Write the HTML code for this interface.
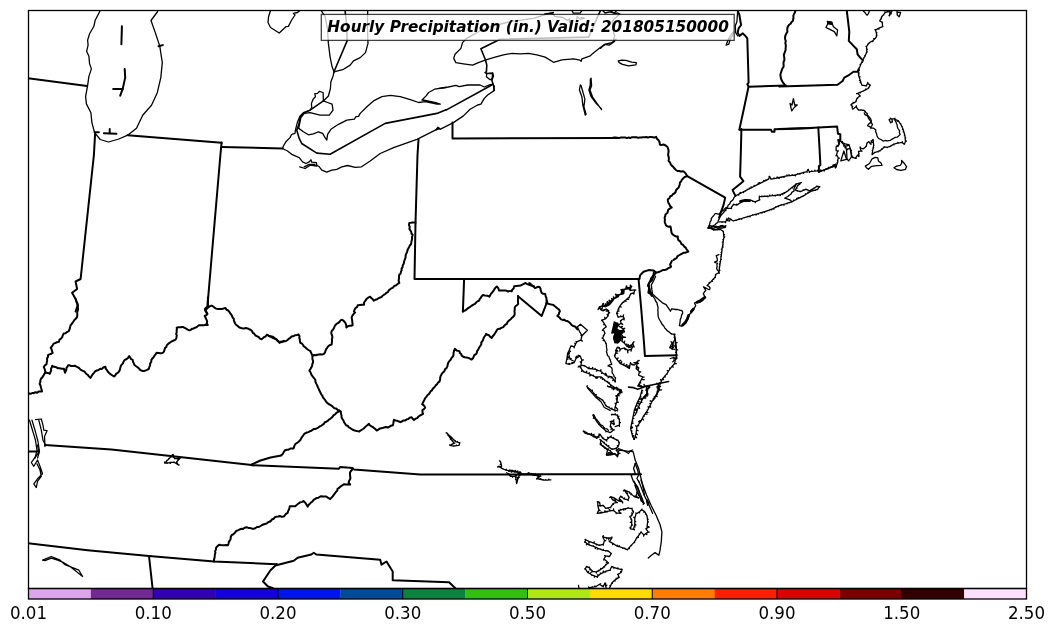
<!DOCTYPE html>
<html><head><meta charset="utf-8"><title>Hourly Precipitation</title>
<style>
html,body{margin:0;padding:0;background:#fff;}
body{width:1054px;height:633px;overflow:hidden;position:relative;font-family:"DejaVu Sans","Liberation Sans",sans-serif;}
svg{position:absolute;left:0;top:0;display:block}
.tl{font-family:"DejaVu Sans","Liberation Sans",sans-serif;font-size:16.67px;fill:#000}
.ttl{font-family:"DejaVu Sans","Liberation Sans",sans-serif;font-size:15.2px;font-weight:bold;font-style:italic;fill:#000}
.map path{fill:none;stroke:#000;stroke-width:1.3;stroke-linejoin:round;stroke-linecap:round}
.map path.thin{stroke-width:1.25}
.map path.fill{fill:#000}
.map path.fat{stroke-width:2.8}
.map path.fat2{stroke-width:1.7}
.map path.c{stroke-width:1.6}
.map path.b{stroke-width:2}
</style></head><body>
<svg width="1054" height="633" viewBox="0 0 1054 633">
<defs><filter id="gs" x="-5%" y="-50%" width="110%" height="200%" color-interpolation-filters="sRGB"><feOffset dx="0" dy="0"/></filter><clipPath id="ax"><rect x="28.5" y="10.5" width="998.0" height="578.0"/></clipPath></defs>
<rect x="0" y="0" width="1054" height="633" fill="#fff"/>
<g class="map" clip-path="url(#ax)">
<path d="M100.2 10.5 L95.1 20.5 L93.9 26.3 L89.6 33.8 L87.6 40.1 L88.1 45.1 L86.6 51.3 L88.9 56.3 L89.6 63.9 L91.4 68.9 L88.9 76.4 L87.6 85.7 L85.6 96.4 L86.4 103.9 L90.9 112.7 L91.9 122.7 L94.6 132.7 L100.2 139.5 L108.4 142.0 L118.9 139.0 L127.7 135.2 L136.5 128.2 L142.7 115.2 L151.5 105.2 L157.3 92.7 L160.8 77.6 L162.3 62.6 L159.8 46.3 L155.3 32.6 L151.0 20.5 L157.3 12.0 L157.8 10.5"/>
<path class="b" d="M27.5 78.1 L87.1 85.9"/>
<path class="b" d="M121.9 26.3 L121.4 44.3"/>
<path class="b" d="M124.7 68.9 L125.2 77.6 L122.7 88.9 L120.2 95.7"/>
<path class="b" d="M113.2 88.9 L122.7 88.9"/>
<path class="b" d="M94.6 132.2 L98.9 132.2"/>
<path class="b" d="M103.9 133.2 L116.4 133.7"/>
<path class="b" d="M109.7 129.0 L109.7 133.2"/>
<path class="b" d="M158.5 46.3 L162.8 45.1"/>
<path class="b" d="M127.7 135.2 L221.6 142.8"/>
<path d="M270.5 10.5 L268.5 17.0 L268.0 22.5 L270.5 27.5 L279.2 33.0 L285.9 26.7 L288.4 26.4 L291.7 20.0 L295.0 15.0 L293.4 13.3 L297.5 12.5 L299.7 10.8"/>
<path d="M321.4 10.8 L325.1 16.7 L327.6 30.0 L328.4 43.4 L330.1 56.8 L332.1 66.8 L334.0 71.8"/>
<path class="c" d="M345.1 10.8 L346.8 26.7 L347.1 40.9 L334.0 71.8"/>
<path d="M367.7 10.8 L367.4 26.7 L368.0 43.4 L365.5 52.6 L360.2 57.6 L353.5 60.9 L350.2 65.1 L343.5 69.3 L334.0 71.8"/>
<path d="M334.0 71.8 L333.1 76.0 L330.9 81.8 L330.4 88.5 L328.4 96.0 L323.4 101.0"/>
<path d="M323.4 100.9 L323.1 92.5 L319.3 91.4 L317.6 93.4 L314.8 93.7 L315.4 96.7 L313.1 99.2 L311.4 103.4 L311.7 107.6 L310.1 110.1 L303.4 112.6 L300.1 115.9 L297.6 121.7 L295.4 130.1 L295.0 133.4 L291.7 134.3 L290.0 137.6 L285.9 141.8 L283.4 146.0 L282.5 148.5"/>
<path d="M323.4 100.9 L327.6 102.5 L332.1 104.2 L333.0 110.1 L329.3 115.1 L320.1 115.1 L310.1 112.6 L304.2 113.4 L300.9 117.6 L299.7 123.4 L298.7 128.4"/>
<path class="c" d="M323.4 100.9 L310.1 110.1 L303.4 113.4 L300.1 117.6 L298.7 125.1 L296.7 130.1 L299.2 138.4 L301.7 143.5 L316.8 153.1 L330.1 154.3 L385.2 123.4 L437.0 113.4 L446.0 109.7"/>
<path d="M298.7 128.4 L303.4 131.8 L308.4 134.8 L313.4 133.8 L318.4 131.8 L322.6 133.4 L325.1 137.6 L326.8 140.1 L327.6 134.3 L330.9 129.3 L338.5 124.3 L346.8 120.1 L354.3 119.2 L356.0 116.7 L358.5 116.4 L360.2 113.4 L366.9 106.7 L373.5 100.9 L381.9 96.7 L390.2 95.4 L400.2 96.7 L410.3 99.7 L418.6 102.5 L425.3 101.7 L437.0 104.2 L440.3 104.2 L437.0 103.0 L425.3 100.5 L422.0 100.0 L426.1 95.9 L428.6 92.5 L434.5 89.2 L446.0 87.5"/>
<path class="b" d="M221.5 147.1 L282.5 148.4"/>
<path d="M282.5 148.5 L287.5 151.0 L291.7 154.3 L299.2 157.6 L302.6 161.8 L305.9 163.5 L309.2 161.8 L310.9 159.8 L311.7 162.2 L316.4 162.7 L316.8 165.2 L319.3 166.8 L321.8 170.2 L326.8 172.2 L331.8 170.2 L336.8 169.3 L341.8 166.8 L347.6 165.5 L355.2 167.3 L361.5 166.8 L370.2 161.0 L380.2 153.5 L393.6 147.6 L416.9 139.3 L435.3 130.1 L438.7 128.4"/>
<path d="M299.7 166.8 L305.1 168.5 L310.1 165.2 L316.8 166.0"/>
<path d="M304.2 166.8 L309.2 164.3 L315.1 164.3"/>
<path d="M553.5 12.5 L546.9 14.2 L533.5 18.4 L510.1 21.7 L490.1 26.7 L478.4 31.7 L466.7 38.4 L462.5 42.6 L460.9 48.4 L455.0 54.3 L453.7 58.4 L455.9 62.6 L463.4 63.8 L472.6 65.1 L478.4 62.6 L485.9 59.8"/>
<path class="c" d="M600.3 10.8 L588.6 37.1 L500.1 39.2 L480.9 48.7 L485.4 59.8 L486.8 65.1 L486.4 71.8 L485.1 72.6 L486.8 73.5 L492.6 73.1 L493.4 76.0 L491.8 80.1 L493.8 86.8 L494.3 90.2"/>
<path d="M486.8 73.5 L486.4 76.8 L490.1 79.8 L492.1 78.5 L492.6 73.1"/>
<path d="M485.9 59.8 L495.1 57.1 L503.5 54.8 L511.8 53.4 L520.2 53.9 L528.5 53.4 L536.9 54.8 L545.2 57.1 L553.5 62.3 L561.9 59.8 L573.6 58.8 L579.9 60.1 L581.1 61.4 L581.9 58.8 L590.3 55.9 L592.8 53.4 L600.3 47.6 L605.3 44.2 L612.0 42.6 L616.0 39.2"/>
<path d="M439.2 88.3 L448.3 87.0 L455.9 85.3 L459.2 86.7 L467.6 85.0 L480.1 85.0 L484.3 87.0 L490.1 84.7 L493.4 84.2"/>
<path class="c" d="M446.0 110.1 L491.8 85.0"/>
<path d="M494.3 85.8 L493.8 90.9 L487.6 95.0 L484.3 98.4 L480.9 104.2 L477.6 105.0 L470.1 109.2 L463.4 115.9 L453.4 122.6 L440.0 129.3"/>
<path class="fill" d="M435.9 130.0 L437.8 127.3 L439.8 128.6 Z"/>
<path class="b" d="M452.5 122.6 L452.5 138.4 L617.0 137.9"/>
<path d="M580.3 85.0 L579.4 90.0 L581.9 96.7 L582.8 105.0 L585.3 115.1 L586.1 114.2 L583.9 106.7 L584.9 99.2 L583.3 93.4 L581.1 85.8 Z"/>
<path d="M591.1 78.3 L591.6 85.8 L590.0 90.0 L592.8 97.5 L597.0 103.4 L601.6 109.7 L601.1 108.4 L596.1 103.4 L591.1 96.7 L588.9 90.0 L590.3 85.0 L590.3 79.2 Z"/>
<path d="M618.3 60.9 L621.7 60.1 L625.9 60.4 L631.7 62.1 L636.4 62.6 L635.9 64.8 L628.4 65.9 L622.5 64.3 L619.2 62.6 Z"/>
<path class="b" d="M737.7 10.8 L739.4 15.0 L740.2 20.0 L741.1 25.0 L738.6 28.4 L737.7 32.6 L739.4 35.9 L742.8 33.4 L745.3 35.9 L747.3 38.4 L747.8 55.1 L748.3 71.8 L748.6 82.6 L747.3 84.3 L748.6 86.5 L743.6 110.0 L739.4 129.4"/>
<path d="M737.7 10.8 L736.9 21.7 L735.2 25.9 L735.7 32.6 L737.7 35.9"/>
<path d="M733.6 31.7 L730.2 35.9 L727.7 40.9 L726.1 45.1 L728.9 44.2 L730.2 39.2 L732.7 35.1 Z"/>
<path class="b" d="M748.6 86.8 L786.0 85.5"/>
<path d="M614.5 41.4 L613.7 39.2 L614.8 35.7 L613.7 33.5 L613.1 25.5 L612.0 22.1 L614.3 18.7 L617.1 16.4 L619.9 14.1 L617.7 13.0 L614.3 13.5 L612.0 11.8 L609.7 10.7"/>
<path d="M600.6 48.3 L604.6 44.3 L609.1 45.1 L612.0 43.1 L614.5 41.4"/>
<path d="M544.8 13.9 L550.5 13.2 L553.9 14.7 L554.5 16.4 L563.0 17.5 L567.6 20.4 L569.8 18.7 L569.3 22.6"/>
<path d="M576.7 19.8 L577.2 16.4 L580.1 19.2 L584.6 18.1 L581.2 17.5"/>
<path d="M572.1 10.7 L573.3 13.2 L580.1 13.2 L581.8 10.9"/>
<path d="M602.9 10.7 L605.1 13.0 L609.7 11.8 L614.3 13.0 L616.5 10.7"/>
<path class="b" d="M795.4 10.8 L794.9 12.4 L794.0 14.0 L793.3 15.8 L793.5 17.6 L793.2 19.2 L792.9 21.0 L791.4 22.3 L790.8 23.5 L789.2 24.7 L788.3 25.8 L787.5 27.5 L787.2 29.6 L787.4 31.7 L786.1 34.0 L785.3 35.9 L785.0 37.6 L785.2 39.3 L785.8 41.1 L785.3 43.0 L785.8 44.9 L785.8 46.5 L785.6 48.4 L785.6 50.2 L784.9 51.9 L784.4 53.3 L783.8 54.9 L784.2 56.9 L784.3 58.4 L784.4 60.2 L783.6 61.8 L783.5 63.3 L783.6 65.1 L783.6 66.7 L782.4 68.5 L781.8 70.2 L781.2 71.9 L780.6 73.7 L780.4 75.0 L780.7 76.9 L780.9 78.3 L781.7 80.3 L782.9 82.5 L783.9 83.6 L785.0 85.2"/>
<path class="b" d="M779.2 86.5 L837.6 84.8 L842.6 81.0 L844.3 77.6 L849.3 74.8 L853.5 71.8 L857.6 71.8 L858.5 69.3"/>
<path class="b" d="M846.8 10.8 L848.1 21.7 L849.3 31.7 L848.8 40.9 L853.5 45.9 L856.8 49.3 L857.6 54.3 L860.2 57.6 L862.7 60.1"/>
<path d="M858.5 70.1 L859.3 70.5 L858.6 69.8 L859.5 67.6 L859.1 67.4 L859.7 67.2 L860.6 65.1 L860.0 64.4 L860.7 64.7 L861.6 62.6 L862.5 62.4 L861.8 62.2 L862.7 60.1 L863.2 61.0 L862.9 59.8 L863.9 58.0 L863.7 57.8 L864.1 57.7 L865.2 55.9 L864.7 55.7 L865.3 55.6 L866.8 51.8 L867.3 52.0 L866.8 51.4 L866.7 49.3 L867.3 49.4 L866.6 48.9 L866.5 46.7 L865.9 46.3 L866.7 46.4 L867.9 44.7 L867.7 44.1 L868.1 44.3 L869.3 42.6 L869.5 43.1 L869.7 42.4 L872.7 40.9 L872.8 41.7 L873.0 40.6 L874.3 39.2 L873.7 38.7 L874.6 38.9 L876.0 37.6 L875.5 37.7 L876.1 37.2 L876.9 35.1 L876.3 35.2 L876.7 34.7 L876.2 32.6 L876.9 32.8 L876.1 32.2 L875.5 30.0 L874.9 29.7 L875.9 29.9 L878.5 28.4 L879.0 29.1 L878.9 28.2 L882.7 26.7 L883.0 26.5 L882.6 26.3 L882.2 22.5 L882.6 22.2 L881.9 22.3 L879.9 20.9 L879.6 20.8 L880.0 20.5 L880.9 18.8 L881.4 18.9 L881.0 18.4 L881.9 16.7 L881.7 16.3 L882.1 16.4 L883.5 14.6 L883.8 14.8 L883.8 14.3 L885.2 12.5 L884.8 11.9 L885.6 12.4 L887.7 11.9 L887.3 11.3 L888.1 11.8 L890.2 11.3 L889.4 11.0 L890.1 11.7 L889.4 15.9 L889.0 15.3 L889.6 15.5 L890.6 13.6 L891.3 13.8 L890.8 13.2 L891.9 11.3"/>
<path d="M896.9 11.7 L898.6 12.4 L900.6 12.4 L899.9 14.8 L899.2 16.9 L897.1 14.8 L897.2 13.4 Z"/>
<path d="M863.5 11.3 L864.9 12.4 L865.9 13.8 L867.0 15.2 L868.4 13.6 L869.3 11.3"/>
<path d="M827.6 21.7 L831.8 22.5 L833.4 26.7 L837.6 30.0 L836.8 35.9 L834.3 31.7 L829.3 29.2 L825.9 27.5 L827.6 24.2 Z"/>
<path class="fill" d="M827.3 21.4 L831.8 22.2 L832.1 24.4 L828.1 23.9 Z"/>
<path d="M790.0 103.4 L791.7 110.9 L794.2 107.6 L797.2 105.0 L794.7 105.0 L793.4 98.7 L792.0 105.0 Z"/>
<path d="M858.5 70.0 L858.9 69.8 L858.5 70.4 L858.5 72.5 L859.1 73.0 L858.5 72.9 L858.5 75.0 L859.1 74.9 L858.6 75.4 L859.3 77.5 L860.0 76.7 L859.4 77.9 L860.2 80.0 L859.5 80.6 L860.3 80.4 L861.0 82.5 L860.1 82.7 L861.1 82.9 L861.8 85.0 L862.0 85.4 L862.2 85.1 L866.0 85.8 L866.6 86.0 L866.2 85.5 L867.7 83.3 L867.8 82.4 L868.0 83.6 L870.2 85.0 L870.4 85.2 L870.0 85.4 L868.5 88.3 L868.6 87.4 L868.1 88.5 L866.0 89.6 L865.8 88.9 L865.6 89.8 L863.5 90.9 L863.5 91.1 L863.1 91.0 L860.6 92.1 L860.4 92.9 L860.2 92.3 L857.6 93.4 L856.6 93.7 L857.9 93.6 L860.2 95.9 L860.4 96.0 L859.8 96.1 L856.8 98.4 L857.7 98.3 L856.7 98.8 L856.0 101.7 L856.1 100.6 L855.6 101.9 L853.7 103.0 L853.1 102.3 L853.4 103.2 L851.5 104.2 L850.7 104.9 L851.6 104.6 L852.1 106.7 L852.7 106.6 L852.1 107.1 L852.6 109.2 L852.4 108.3 L853.0 109.0 L856.0 106.7 L856.4 105.8 L856.2 107.0 L858.5 110.1 L858.7 109.5 L858.9 110.1 L861.0 110.1 L861.0 109.6 L861.4 110.1 L863.5 110.1 L862.5 110.3 L863.8 110.3 L865.2 111.7 L865.4 111.3 L865.4 112.0 L866.8 113.4 L867.4 113.3 L867.0 113.8 L867.7 115.9 L868.3 115.8 L867.8 116.3 L868.5 118.4 L869.1 117.9 L868.7 118.7 L871.0 121.7"/>
<path class="b" d="M778.7 129.1 L810.0 128.0 L818.3 127.5 L837.1 126.5 L838.0 133.8 L840.3 134.3 L840.3 141.1 L838.2 140.0 L839.2 143.7"/>
<path d="M839.2 143.7 L838.6 143.1 L839.1 144.1 L838.2 146.3 L837.1 145.3 L837.8 146.4 L836.1 146.8 L837.2 146.2 L836.1 147.2 L836.1 150.5 L836.1 149.7 L836.5 150.6 L837.7 151.0 L838.5 150.9 L837.5 151.4 L836.6 154.7 L835.9 155.8 L836.8 155.0 L838.2 157.8 L839.4 158.2 L838.1 158.2 L837.9 160.1 L837.4 160.4 L837.9 160.5 L837.7 162.5 L837.0 162.6 L837.5 162.9 L836.6 165.1 L835.7 164.1 L836.5 165.5 L835.6 167.7"/>
<path d="M835.6 167.7 L835.4 167.9 L835.3 167.4 L833.5 165.1 L833.3 164.7 L833.3 165.4 L832.4 166.7 L832.4 166.4 L832.1 166.8 L830.3 167.5 L830.1 167.0 L829.9 167.7 L828.1 168.4 L828.2 168.8 L827.7 168.5 L825.9 169.3 L826.1 168.7 L825.5 169.4 L823.7 170.1 L824.5 170.7 L823.4 170.3 L821.6 171.0 L821.2 170.8 L821.2 171.2 L819.4 171.9"/>
<path class="b" d="M818.3 127.5 L819.4 146.3 L820.4 165.1 L818.9 166.1 L818.9 171.9"/>
<path d="M840.8 160.9 L843.9 151.0 L846.5 159.4 Z"/>
<path d="M841.3 142.1 L841.5 141.5 L841.6 142.4 L844.4 145.3 L843.6 146.0 L844.6 145.6 L845.5 147.4 L844.9 147.7 L845.7 147.7 L846.5 149.4 L847.6 149.7 L846.4 149.1 L845.5 146.3 L844.7 145.5 L845.9 146.2 L848.6 145.3"/>
<path d="M846.5 149.4 L850.2 148.4 L851.7 156.7 L848.6 160.9 L847.0 158.8 Z"/>
<path d="M840.3 141.1 L840.2 140.6 L840.6 141.3 L842.4 142.4 L842.3 141.5 L842.7 142.6 L844.4 143.7 L844.7 143.5 L844.8 143.8 L846.8 144.2 L846.9 144.5 L847.2 144.3 L849.1 144.7 L848.2 144.7 L849.2 145.1 L850.2 148.4 L850.4 148.4 L850.3 148.8 L850.7 150.8 L851.5 150.3 L850.8 151.2 L851.2 153.3 L851.6 153.1 L851.3 153.7 L851.7 155.7 L851.1 155.8 L852.0 156.0 L852.8 157.3 L852.3 157.7 L853.2 157.4 L855.4 158.3 L856.4 158.2 L855.6 158.0 L857.5 155.2 L857.7 155.0 L857.8 155.4 L859.1 156.2 L858.5 156.5 L859.0 155.8 L858.8 153.9 L859.1 153.7 L858.7 153.5 L858.5 151.5 L858.7 152.2 L858.9 151.4 L861.1 151.0 L862.1 151.0 L861.0 150.6 L860.1 147.9 L860.2 147.0 L860.5 148.0 L863.2 148.9 L862.8 148.6 L863.5 148.7 L866.4 146.3 L865.5 146.8 L866.4 145.9 L866.9 143.2 L866.9 143.8 L867.2 142.9 L869.0 141.6 L868.4 142.2 L869.2 142.0 L870.5 144.2 L871.2 144.2 L870.7 143.8 L871.6 141.1 L871.0 140.9 L871.9 140.8 L873.1 139.5 L872.9 139.5 L873.2 139.9 L873.4 142.4 L872.5 142.5 L873.4 142.8 L873.7 145.3 L873.9 145.5 L873.6 145.7 L873.1 147.9 L873.7 147.6 L873.1 148.3 L872.6 150.5 L872.4 150.4 L872.6 150.9 L872.1 154.7 L872.0 154.2 L872.4 154.4 L874.7 152.6 L874.3 152.3 L875.1 152.4 L877.8 151.5 L878.0 152.1 L878.2 151.3 L879.9 150.5 L880.0 151.0 L880.3 150.3 L882.0 149.4 L881.6 148.8 L882.3 149.1 L884.1 146.8 L884.2 147.6 L884.5 146.9 L887.2 147.4 L887.4 147.6 L887.6 147.2 L890.4 146.3 L890.3 146.0 L890.7 146.1 L893.5 144.2 L894.0 144.8 L893.9 144.1 L897.7 143.2 L897.8 142.3 L898.1 143.1 L901.8 142.3 L902.4 141.8 L902.2 142.6 L904.4 144.2 L904.1 144.3 L904.6 143.8 L905.5 141.1 L906.4 141.2 L905.4 140.7 L905.1 138.0 L905.7 137.8 L905.1 137.6 L904.8 134.8 L904.4 135.4 L904.6 134.4 L903.8 131.7 L903.1 131.9 L903.7 131.3 L902.9 128.6 L902.5 129.3 L902.7 128.2 L901.8 126.5 L902.3 126.5 L901.7 126.1 L900.8 124.4 L901.0 124.0 L900.6 124.1 L898.2 120.7 L897.4 121.2 L897.8 120.6 L894.5 119.0 L895.1 118.2 L894.1 118.9 L890.9 118.7 L890.4 118.1 L890.5 118.9 L889.1 119.7 L889.3 119.4 L889.3 120.1 L890.4 122.3 L890.7 122.9 L890.7 122.2 L892.4 121.8 L892.3 122.0 L892.4 121.4 L891.9 119.7"/>
<path d="M894.5 119.7 L895.8 121.5 L896.5 123.5 L897.2 125.1 L897.3 126.8 L898.0 128.5 L899.6 130.8 L899.3 132.4 L900.2 134.4 L898.6 136.0 L897.2 137.2 L895.2 137.4 L893.6 138.3 L891.7 139.3 L890.3 140.4 L888.6 140.6 L887.4 140.9 L885.2 140.5 L883.1 141.1 L881.0 139.5 L878.8 138.7 L877.8 137.3 L877.1 136.0 L876.6 133.8 L875.7 131.9 L875.8 129.9 L873.7 128.2 L870.6 127.8 L871.6 126.3 L872.6 124.5 L871.0 122.4 L869.1 123.6 L867.6 125.7 L870.2 126.9 L870.5 128.0"/>
<path d="M870.5 122.3 L871.4 121.4 L870.8 119.1 L869.6 117.3 L868.0 116.1 L866.3 115.4 L864.9 114.4 L864.3 112.9"/>
<path d="M865.3 166.1 L869.5 163.5 L872.1 158.8 L875.2 157.3 L877.8 157.8 L878.4 160.9 L881.0 163.0 L882.0 165.3 L876.8 165.6 L871.6 166.3 L868.4 169.3 L866.4 167.7 Z"/>
<path d="M894.0 167.7 L896.6 166.1 L900.3 165.3 L901.8 163.0 L901.6 160.4 L904.4 163.5 L906.5 166.7 L905.5 169.3 L900.8 170.3 L896.6 169.5 Z"/>
<path class="b" d="M609.2 137.9 L610.9 137.9 L612.3 138.0 L614.2 137.5 L615.6 137.5 L617.1 137.7 L619.1 138.0 L620.5 137.6 L622.1 137.6 L623.5 137.6 L625.2 137.4 L626.9 138.1 L628.7 137.4 L630.1 138.1 L631.6 137.3 L633.3 137.2 L634.8 137.2 L636.6 137.3 L638.3 137.9 L639.8 137.4 L641.4 137.5 L642.8 137.3 L644.8 137.2 L646.2 137.1 L648.0 137.5 L649.4 137.1 L651.0 137.1 L652.9 137.3 L654.5 137.6 L656.1 136.8 L657.1 139.0 L658.5 140.1 L659.5 142.0 L659.9 144.7 L661.8 144.9 L663.4 144.5 L665.7 145.5 L667.5 147.0 L668.0 148.6 L668.5 150.1 L668.6 151.6 L668.3 153.3 L668.1 155.2 L668.7 156.9 L668.9 159.1 L668.5 160.9 L670.1 162.5 L670.7 164.3 L672.0 165.9 L673.3 166.9 L674.5 168.6 L676.0 170.0 L677.5 171.0 L679.5 171.0 L680.9 171.6 L682.7 171.2 L684.2 171.9 L685.8 173.6 L686.8 175.5"/>
<path class="b" d="M739.4 129.8 L771.1 129.8 L772.0 131.8 L774.5 131.8 L774.5 129.3 L786.0 128.9 L812.0 127.9"/>
<path class="b" d="M741.4 129.1 L740.9 150.0 L740.1 176.7 L743.4 181.2 L732.6 190.1 L735.4 195.9"/>
<path class="b" d="M686.8 175.9 L725.2 197.6 L723.5 205.1 L721.0 211.8 L719.4 217.6"/>
<path class="b" d="M686.8 176.4 L684.7 177.0 L683.0 178.5 L681.8 179.9 L681.1 181.4 L679.9 182.5 L679.8 184.5 L679.1 186.1 L678.7 187.6 L677.3 188.8 L676.0 190.2 L675.6 192.0 L674.3 193.5 L672.8 194.2 L671.8 195.7 L670.1 196.5 L669.4 198.3 L667.8 199.4 L667.9 201.1 L668.4 202.9 L669.3 204.1 L670.1 206.0 L671.7 207.5 L670.3 208.2 L669.1 209.1 L668.1 210.0 L667.5 212.8 L665.4 214.5 L665.3 215.9 L664.6 217.7 L664.9 219.1 L664.8 220.9 L664.8 222.6 L665.7 224.4 L666.0 225.5 L668.1 226.7 L670.5 226.5 L671.0 229.0 L671.2 231.0 L671.7 233.2 L673.4 235.0 L674.5 235.8 L676.0 236.4 L677.8 236.6 L677.9 238.7 L678.5 240.4 L679.8 241.0 L680.9 242.8 L681.6 244.2 L683.2 245.0 L684.3 246.6 L685.7 247.6 L686.4 249.2 L687.4 250.3 L688.3 251.6 L686.5 252.2 L685.2 252.8 L683.4 252.8 L682.2 253.7 L680.4 254.5 L678.6 255.5 L677.4 256.4 L676.6 258.1 L674.8 259.0 L673.5 260.0"/>
<path d="M735.4 195.9 L735.4 196.4 L735.8 195.7 L738.1 194.5 L738.7 195.2 L738.4 194.3 L740.7 193.1 L740.0 192.4 L741.1 193.0 L743.4 191.7 L743.6 192.5 L743.8 191.6 L745.5 190.7 L745.5 191.2 L745.9 190.5 L747.6 189.7 L747.2 189.3 L747.9 189.5 L749.7 188.6 L749.3 188.1 L750.0 188.4 L751.8 187.6 L751.1 187.0 L752.1 187.4 L753.9 186.5 L754.1 185.4 L754.2 186.3 L755.9 185.5 L756.0 185.1 L756.3 185.3 L758.0 184.4 L758.2 183.2 L758.4 184.3 L760.1 183.4 L759.2 182.6 L760.5 183.2 L762.2 182.4 L762.3 181.8 L762.6 182.2 L764.3 181.3 L763.6 180.4 L764.6 181.1 L766.4 180.3 L765.8 179.8 L766.7 180.1 L768.5 179.2 L768.1 179.0 L768.6 178.9 L769.6 176.4 L769.1 176.5 L769.8 176.7 L771.0 179.2 L771.2 178.8 L771.4 179.1 L773.9 178.6 L773.9 177.8 L774.3 178.6 L776.8 178.1 L777.1 176.9 L777.2 178.0 L779.3 177.5 L779.1 178.5 L779.7 177.4 L781.8 177.0 L781.6 177.4 L782.2 176.9 L784.3 176.4 L784.0 177.3 L784.7 176.3 L786.8 175.9 L787.0 174.8 L787.2 175.8 L789.6 175.6 L789.0 174.8 L790.0 175.6 L792.4 175.3 L792.1 174.7 L792.8 175.3 L795.2 175.0 L795.4 175.9 L795.6 174.9 L797.7 174.2 L797.6 173.6 L798.1 174.1 L800.2 173.4 L799.8 174.2 L800.6 173.3 L803.5 172.5 L803.6 173.4 L803.9 172.4 L806.9 171.7 L807.2 172.2 L807.0 171.3 L807.7 169.7 L808.5 169.5 L808.0 170.0 L809.4 171.7 L809.3 172.5 L809.8 171.7 L811.9 171.4 L811.5 171.0 L812.3 171.4 L814.4 171.2 L814.9 170.2 L814.8 171.1 L816.9 170.9 L817.7 170.3 L817.3 171.0 L818.9 171.7 L818.6 171.3 L819.3 171.6 L821.3 170.9 L820.3 170.0 L821.7 170.7 L823.8 170.0 L824.5 170.8 L824.2 169.9 L826.2 169.2 L826.3 168.6 L826.6 169.1 L828.7 168.4 L828.3 167.3 L829.1 168.2 L831.1 167.5 L831.0 166.7 L831.5 167.4 L833.6 166.7 L832.6 166.1 L833.7 166.3 L834.4 164.7 L835.4 164.5 L834.7 165.0 L836.1 166.7"/>
<path d="M735.4 195.9 L734.0 197.6 L733.2 199.4 L731.8 200.7 L730.4 202.0 L729.9 203.8 L728.1 205.2 L727.6 207.1 L725.9 207.7 L724.7 208.8 L723.5 210.2 L721.4 211.6 L719.9 213.3 L719.9 215.5 L719.2 217.6"/>
<path d="M719.2 217.6 L719.6 218.0 L719.5 217.3 L721.3 215.1 L721.2 214.8 L721.5 214.8 L723.4 212.6 L723.8 212.7 L723.6 212.3 L725.0 210.5 L726.0 210.7 L725.3 210.2 L726.7 208.4 L726.5 208.8 L727.1 208.4 L730.9 208.4 L731.5 208.5 L731.1 208.1 L732.1 206.4 L731.8 206.4 L732.4 206.0 L733.4 204.3 L733.2 205.1 L733.8 204.4 L736.7 205.1 L736.7 204.1 L737.1 204.9 L739.0 203.7 L738.7 203.6 L739.3 203.5 L741.2 202.3 L741.2 201.8 L741.5 202.1 L743.4 200.9 L743.7 201.4 L743.8 200.9 L746.8 200.5 L746.9 199.7 L747.2 200.5 L750.1 200.1 L750.1 199.8 L750.5 200.2 L752.6 200.9 L752.7 201.4 L753.0 201.1 L755.1 201.8 L755.4 202.7 L755.5 201.6 L759.3 200.1 L759.9 199.7 L759.3 199.7 L759.3 196.8 L759.4 196.1 L759.7 196.7 L762.0 196.5 L761.6 196.1 L762.4 196.5 L764.7 196.3 L764.8 195.8 L765.1 196.3 L767.4 196.1 L768.0 196.8 L767.8 196.1 L770.1 195.9 L769.7 195.1 L770.5 195.9 L772.6 195.6 L772.4 194.9 L773.0 195.6 L775.1 195.3 L775.3 196.0 L775.5 195.3 L777.6 195.0 L777.6 194.6 L778.0 195.0 L780.2 194.8 L780.3 195.6 L780.5 194.6 L782.4 193.7 L782.9 194.6 L782.7 193.6 L784.6 192.7 L784.5 193.3 L785.0 192.6 L786.8 191.7 L786.7 191.4 L787.1 191.5 L789.3 189.7 L789.0 189.3 L789.6 189.4 L791.8 187.6 L792.7 187.8 L792.2 187.3 L793.9 185.9 L794.7 186.3 L794.2 185.7 L796.0 184.2 L796.0 183.9 L796.4 184.1 L798.5 183.4 L798.6 184.0 L798.9 183.3 L801.0 182.6 L801.4 182.7 L800.7 182.8 L799.4 184.2 L799.7 184.3 L799.1 184.5 L797.7 185.9 L797.3 185.7 L797.5 186.2 L796.4 188.0 L797.0 188.1 L796.2 188.3 L795.2 190.1 L795.4 189.7 L795.6 190.2 L797.7 190.9 L797.3 191.2 L798.1 191.0 L800.2 191.7 L799.8 191.1 L800.6 191.6 L803.1 190.5 L803.2 189.7 L803.5 190.3 L806.0 189.2 L805.6 189.6 L806.4 189.4 L809.4 190.9 L809.4 190.6 L809.7 190.7 L811.9 189.4 L812.3 190.0 L812.2 189.2 L814.4 187.9 L814.8 188.1 L814.7 187.7 L816.9 186.4 L816.7 186.1 L817.3 186.5 L819.4 186.7 L819.9 186.7 L819.2 187.1 L817.7 189.2 L817.8 189.5 L817.3 189.4 L815.2 190.1 L815.5 190.4 L814.8 190.2 L812.7 190.9 L812.9 190.0 L812.3 191.0 L810.2 191.7 L810.0 191.5 L809.9 192.0 L808.0 193.1 L808.1 192.1 L807.6 193.3 L805.8 194.5 L805.4 193.8 L805.4 194.7 L803.5 195.9 L803.1 195.7 L803.2 196.1 L801.3 197.0 L801.4 196.5 L800.9 197.2 L799.1 198.1 L798.1 197.6 L798.7 198.3 L796.9 199.3 L796.8 198.4 L796.5 199.4 L794.3 200.5 L793.5 200.1 L794.0 200.7 L791.8 201.8 L791.4 201.4 L791.5 201.9 L789.3 202.6 L789.4 202.9 L789.0 202.7 L786.8 203.4 L787.1 203.8 L786.4 203.5 L784.0 204.3 L784.0 205.3 L783.7 204.4 L781.3 205.1 L781.2 204.7 L780.9 205.2 L778.5 205.9 L778.5 206.6 L778.1 206.1 L776.0 207.2 L775.7 206.7 L775.6 207.4 L773.5 208.4 L773.9 209.2 L773.1 208.6 L771.2 209.3 L771.7 209.8 L770.9 209.4 L769.0 210.1 L769.1 210.6 L768.6 210.3 L766.8 210.9 L767.2 211.2 L766.4 211.1 L764.0 211.8 L764.6 212.4 L763.6 211.9 L761.2 212.6 L762.0 213.2 L760.8 212.7 L758.4 213.5 L758.5 214.2 L758.1 213.6 L755.7 214.3 L756.4 214.9 L755.3 214.4 L752.9 215.1 L752.5 214.8 L752.5 215.2 L750.1 216.0 L750.0 216.9 L749.7 216.1 L747.3 216.8 L747.4 216.4 L746.9 216.9 L744.5 217.6 L744.4 217.9 L744.1 217.7 L741.7 218.5 L741.8 219.3 L741.4 218.6 L739.0 219.3 L739.1 218.6 L738.6 219.4 L736.2 220.1 L736.4 220.5 L735.8 220.2 L733.4 221.0 L733.6 220.8 L733.1 220.8 L731.3 219.7 L731.4 219.4 L731.0 219.5 L729.2 218.5 L728.6 217.9 L728.9 218.7 L727.1 220.1 L726.4 219.5 L726.8 220.4 L725.0 221.8 L725.7 222.6 L724.6 221.8 L722.1 221.8 L722.0 222.3 L721.7 221.8 L719.2 221.8"/>
<path d="M796.0 184.2 L795.4 185.8 L794.5 187.3 L793.9 189.0 L794.0 191.2 L791.8 192.3 L791.1 194.0 L789.2 195.2 L787.8 196.5 L785.9 197.5 L784.6 198.2 L786.3 198.6 L788.4 199.4 L790.5 200.2 L791.8 201.8"/>
<path d="M720.0 213.8 L718.2 214.1 L716.5 213.6 L714.9 213.7 L713.9 215.5 L712.5 216.9 L711.3 218.6 L711.2 220.4 L710.1 221.8 L709.8 223.6 L709.4 225.0 L708.6 226.6 L708.1 228.0"/>
<path d="M720.0 213.8 L719.5 215.5 L719.4 217.2 L719.1 219.1 L718.2 220.7 L717.9 222.5 L716.2 223.3 L715.1 224.8 L713.4 225.5 L712.2 227.0 L710.0 227.4 L708.1 228.0"/>
<path d="M708.1 228.0 L710.0 228.1 L712.0 228.5 L713.9 228.1 L715.8 227.4 L717.9 227.1 L720.1 226.0 L722.4 225.5 L724.0 226.6 L725.7 226.9"/>
<path class="fat" d="M740.5 201.3 L745.1 200.4 L749.6 200.7"/>
<path d="M726.9 218.3 L727.7 220.7 L729.6 221.1 L730.3 218.9"/>
<path class="b" d="M95.1 133.7 L93.9 155.0 L80.6 279.0 L75.6 281.5 L77.1 289.0 L72.1 292.8 L75.6 299.0 L77.6 305.3 L75.6 311.5"/>
<path class="b" d="M221.6 142.5 L220.4 155.0 L207.4 306.5 L204.9 309.0 L206.6 313.0"/>
<path class="b" d="M75.6 298.7 L75.9 299.7 L76.4 301.4 L77.4 303.4 L77.9 305.0 L77.8 306.8 L78.1 308.7 L77.8 310.5 L77.2 312.1 L77.3 314.1 L77.3 315.6 L76.8 317.5 L75.7 318.7 L74.5 319.9 L73.6 321.2 L72.6 322.7 L71.7 323.9 L70.4 325.7 L70.0 327.4 L69.5 329.4 L68.8 331.2 L66.9 332.1 L65.6 333.3 L63.7 333.6 L62.7 335.5 L62.2 337.1 L61.0 338.6 L59.5 339.6 L59.0 341.7 L57.0 342.2 L55.4 343.0 L53.6 343.6 L52.7 345.3 L51.8 346.6 L50.7 347.7 L51.6 349.3 L51.9 350.7 L52.7 352.8 L51.3 353.8 L49.5 354.4 L48.2 355.0 L47.9 357.0 L47.0 358.5 L47.2 360.5 L46.8 362.0 L46.5 364.2 L44.8 365.4 L43.8 367.1 L44.7 369.1 L45.1 370.8 L45.5 372.6"/>
<path class="b" d="M45.5 372.6 L44.2 374.2 L43.5 375.7 L42.4 377.2 L41.0 378.7 L40.4 380.4 L40.3 382.2 L39.6 383.8 L40.6 385.7 L40.9 387.5 L41.6 389.5 L42.0 391.5 L40.5 391.5 L38.6 391.6 L37.1 392.7 L35.4 392.2 L33.9 393.2 L32.6 392.9 L30.6 393.8 L29.2 393.5 L27.5 393.9"/>
<path class="b" d="M45.5 372.6 L47.7 372.9 L49.9 373.7 L50.3 372.4 L51.2 370.5 L51.0 368.7 L51.8 367.2 L52.2 365.8 L53.9 366.8 L55.9 367.1 L57.7 368.2 L59.8 368.3 L61.6 368.7 L64.0 368.7 L64.4 370.6 L65.0 372.8 L65.7 371.1 L66.4 369.5 L66.5 367.8 L67.5 366.6 L68.2 365.3 L69.7 365.3 L71.1 366.0 L73.1 366.0 L74.8 365.7 L76.4 366.6 L78.1 367.4 L79.4 368.4 L80.5 369.6 L82.3 370.6 L84.1 371.4 L85.2 372.5 L86.4 374.0 L87.8 374.9 L88.9 376.4 L90.3 377.9 L91.3 376.6 L92.1 375.2 L93.3 373.7 L94.3 372.6 L95.0 371.3 L96.8 370.5 L98.6 370.0 L100.1 368.8 L102.0 368.9 L103.3 367.5 L105.4 366.8 L105.8 368.8 L107.0 370.1 L107.7 371.5 L108.9 372.8 L110.5 374.1 L112.1 375.2 L114.0 376.5 L115.2 375.4 L116.1 373.8 L118.0 372.7 L119.0 371.5 L119.9 369.8 L120.2 368.4 L120.6 366.7 L121.3 365.1 L122.9 363.4 L123.6 361.5 L124.8 359.9 L126.7 359.0 L128.0 357.9 L129.2 356.0 L130.3 357.8 L131.1 359.2 L132.7 359.9 L133.0 361.7 L133.8 363.2 L134.3 364.8 L135.8 366.0 L137.2 367.0 L138.4 367.9 L139.6 369.4 L141.0 370.4 L142.7 371.0 L144.5 370.9 L145.8 370.4 L147.6 369.6 L149.0 368.7 L149.3 366.9 L150.1 365.6 L150.1 363.4 L151.2 362.1 L151.4 359.9 L152.4 358.4 L153.4 357.5 L154.4 355.8 L155.5 354.4 L156.6 352.8 L158.7 353.0 L160.6 353.2 L162.7 352.9 L164.0 351.6 L164.4 350.1 L165.0 348.1 L166.3 346.9 L166.8 345.3 L168.1 344.1 L169.2 343.1 L170.8 342.0 L172.2 341.2 L173.8 340.5 L175.1 339.9 L176.1 338.9 L176.5 337.2 L176.8 335.4 L176.1 333.8 L176.8 332.2 L176.6 330.9 L176.9 329.0 L176.7 327.7 L178.2 327.3 L180.4 327.3 L182.3 326.9 L183.7 327.3 L185.7 328.3 L187.3 329.3 L189.1 330.3 L190.6 330.1 L191.9 328.7 L193.4 328.7 L195.0 327.7 L196.4 327.3 L197.7 326.2 L198.9 325.3 L200.8 325.2 L202.4 325.2 L204.1 325.2 L205.5 324.8 L207.8 325.0 L206.7 323.4 L207.1 321.8 L206.7 320.1 L205.8 318.3 L204.7 315.8 L206.3 315.3 L207.5 313.8 L206.3 311.8 L205.2 310.3 L206.5 309.2 L207.3 308.1 L208.6 307.2 L209.9 306.2 L211.7 305.6 L213.4 306.6 L214.4 307.7 L216.2 308.6 L218.0 309.1 L219.7 308.9 L221.9 308.9 L223.5 308.6 L225.3 307.9 L226.5 309.8 L227.9 310.3 L229.3 311.7 L230.3 313.6 L231.3 314.5 L232.1 316.2 L232.8 317.8 L233.8 318.7 L233.9 320.8 L234.5 322.0 L235.3 323.7 L236.0 324.7 L237.4 325.8 L238.8 327.0 L240.3 327.8 L241.9 328.3 L243.8 328.5 L245.9 328.1 L247.6 328.4 L249.1 329.2 L250.6 329.8 L252.1 331.2 L252.8 332.8 L254.2 333.7 L255.3 335.3 L256.8 336.2 L258.6 337.0 L260.0 338.6 L261.6 339.2 L262.8 338.3 L263.9 337.2 L265.6 336.5 L266.8 334.8 L268.8 335.6 L270.8 336.1 L272.6 336.6 L274.0 337.6 L275.4 338.7 L276.8 339.8 L278.2 341.4 L279.6 342.9 L280.6 341.7 L282.4 341.8 L284.0 340.8"/>
<path class="b" d="M207.9 297.5 L207.9 306.3"/>
<path class="b" d="M27.5 451.5 L38.8 451.5"/>
<path class="thin" d="M29.5 420.2 L32.5 430.2 L35.5 440.3 L37.0 450.3 L35.0 458.0"/>
<path class="thin" d="M32.0 420.2 L35.0 430.2 L38.0 441.5 L39.5 451.5 L37.5 458.0"/>
<path class="thin" d="M35.5 419.7 L41.3 419.0 L43.0 425.2 L43.8 430.2 L47.1 430.7 L44.5 436.5 L45.0 446.5"/>
<path class="thin" d="M38.8 420.2 L41.3 430.2 L43.0 440.3 L45.0 444.0"/>
<path class="b" d="M418.5 139.5 L417.5 155.0 L415.5 222.6 L414.5 279.0 L535.5 279.0"/>
<path class="b" d="M415.5 222.6 L414.0 222.5 L412.5 222.4 L410.7 222.7 L409.3 222.9 L409.0 225.1 L409.8 226.9 L409.4 228.9 L410.3 230.3 L411.3 232.0 L411.4 233.5 L412.7 235.0 L412.0 237.0 L412.1 238.8 L411.6 240.9 L411.3 242.6 L411.1 244.1 L409.8 245.5 L409.2 246.9 L408.3 248.5 L407.4 250.2 L407.2 251.9 L406.2 253.8 L405.6 255.6 L405.5 257.9 L404.8 259.5 L404.1 261.5 L403.8 263.5 L402.8 265.2 L402.6 267.1 L401.6 268.6 L401.6 270.4 L400.9 271.9 L400.6 273.7 L399.2 274.8 L399.0 276.5 L399.0 278.4 L398.6 280.5 L399.3 282.9 L397.4 284.1 L396.3 285.2 L394.3 285.9 L393.0 287.6 L391.4 288.3 L390.2 289.2 L388.7 290.4 L388.1 291.9 L386.5 292.8 L385.5 293.8 L384.1 294.7 L382.5 295.8 L381.6 297.0 L380.2 297.5 L378.3 298.3 L377.2 299.3 L375.4 299.8 L373.7 300.7 L372.9 299.2 L371.3 298.1 L370.1 296.7 L368.2 297.7 L366.6 298.9 L365.6 300.4 L364.1 302.5 L364.0 304.8 L361.9 304.7 L359.9 305.0 L357.7 305.3 L357.2 306.9 L355.4 308.3 L354.5 309.8 L353.9 311.5"/>
<path class="b" d="M464.1 279.5 L462.9 311.5"/>
<path class="b" d="M462.9 311.5 L464.7 310.7 L465.9 309.9 L467.4 308.7 L468.9 307.7 L470.6 306.5 L471.8 305.7 L473.4 304.6 L475.0 303.9 L476.3 302.3 L477.7 301.3 L479.2 300.5 L479.7 298.9 L480.8 297.9 L481.5 296.4 L482.9 295.1 L484.9 295.5 L487.2 295.7 L489.4 296.7 L490.3 295.1 L491.2 293.4 L492.4 292.2 L493.5 290.9 L494.3 289.4 L495.4 287.8 L496.8 286.5 L498.3 288.1 L499.0 290.6 L501.0 290.5 L503.0 290.4 L504.7 290.6 L506.2 290.6 L508.1 291.5 L509.9 290.9 L511.7 291.4 L512.2 289.8 L513.8 288.3 L514.1 286.2 L516.4 285.9 L518.6 285.7 L520.6 285.5 L522.3 284.6 L523.9 283.8 L525.5 283.0 L526.9 283.8 L528.6 284.5 L530.5 285.2 L532.5 285.8 L534.0 286.5"/>
<path class="b" d="M529.2 278.9 L639.4 278.9"/>
<path class="b" d="M639.4 278.9 L640.2 275.1 L643.5 271.7 L648.6 270.1 L653.6 270.6 L656.1 272.6"/>
<path class="b" d="M671.9 260.9 L671.1 262.5 L670.1 264.5 L671.1 266.6 L669.7 267.6 L668.3 268.2 L666.9 269.3 L665.2 269.9 L662.9 270.1 L661.3 270.9 L659.6 271.7 L657.8 272.3 L656.1 272.4 L655.0 273.7 L654.1 275.3 L653.3 276.4 L652.7 278.3 L652.4 279.6 L651.0 280.9 L649.4 282.5 L648.6 284.5 L649.0 286.0 L649.2 287.5 L649.2 289.3 L648.9 291.2 L648.5 292.7 L650.4 294.0 L651.9 296.0"/>
<path class="b" d="M529.2 283.1 L530.1 283.4 L531.3 284.6 L532.2 285.8 L533.8 286.6 L535.0 288.1 L536.8 287.3 L538.2 286.8 L539.6 287.0 L540.5 288.6 L540.8 290.9 L541.8 293.0 L543.2 293.8 L545.3 294.1 L545.6 296.2 L546.4 298.0 L546.6 300.2 L547.3 302.0 L547.3 303.5 L549.6 304.1 L551.4 304.6 L553.2 304.9 L554.9 306.2 L556.1 307.2 L557.6 308.5 L559.0 309.6 L559.9 311.2 L559.2 312.6 L558.8 314.3 L557.3 316.0 L559.4 317.3 L561.0 319.4 L562.7 319.9 L564.1 319.7 L565.8 320.8 L567.4 321.1 L569.1 322.1 L570.7 323.7 L571.7 325.2 L573.4 326.0 L575.5 326.7 L576.4 328.3 L577.6 329.4"/>
<path class="b" d="M638.6 279.4 L641.4 310.8 L643.9 341.7 L644.9 355.9 L676.6 355.2"/>
<path d="M648.2 285.6 L648.9 287.3 L649.5 288.8 L649.8 290.8 L650.8 292.4 L651.5 294.0 L652.7 295.8 L653.8 297.4 L654.9 299.0 L655.6 301.0 L657.0 302.9 L657.3 304.8 L657.8 306.4 L658.1 308.3 L657.8 310.0 L658.0 311.7 L658.0 313.5 L658.1 315.1 L658.3 317.0 L659.0 318.7 L660.0 320.5 L661.0 322.1 L661.9 324.0 L663.2 325.5 L664.2 326.7 L664.9 328.2 L666.3 329.4 L667.1 330.6 L668.9 331.8 L670.3 333.1 L671.8 334.1 L674.1 334.2 L674.4 336.0 L674.6 337.9 L674.8 339.9 L675.4 341.6 L675.4 343.4 L675.4 345.3 L675.8 347.2 L676.1 349.1 L676.2 350.8 L676.2 352.4 L676.5 354.0 L676.7 356.0 L676.6 358.9"/>
<path d="M669.8 347.2 L670.6 345.7 L671.4 344.3 L672.5 343.0 L673.6 341.6 L673.1 343.5 L672.7 345.5 L672.2 347.2 L671.9 349.2 L673.1 347.9 L674.1 346.6"/>
<path d="M653.7 275.1 L651.9 280.0 L648.8 283.1 L647.6 285.6 L648.8 287.4 L648.2 292.3 L651.9 293.6 L657.4 298.5 L662.4 302.8 L666.1 304.7 L669.8 310.2"/>
<path d="M655.6 276.3 L653.7 280.6 L651.3 284.9 L651.9 289.9 L652.5 293.3"/>
<path class="fat2" d="M630.9 286.8 L630.5 285.4 L630.6 287.0 L628.5 288.6 L628.0 287.7 L628.1 288.7 L626.3 288.9 L626.6 286.0 L625.9 289.0 L624.1 289.3 L622.0 289.5 L624.1 289.6 L623.8 291.4 L621.1 289.8 L623.8 291.8 L623.5 293.6 L623.4 290.1 L623.1 293.7 L621.4 294.2 L622.0 291.2 L621.0 294.3 L619.2 294.8 L617.7 294.8 L619.0 295.1 L618.0 296.7 L615.7 294.4 L617.6 296.8 L616.1 297.6 L616.3 296.3 L615.8 297.8 L614.3 298.5 L613.6 297.1 L614.0 298.8 L613.0 300.0 L611.8 298.6 L612.8 300.4 L611.8 301.6 L611.2 300.7 L611.6 301.9 L610.6 303.1 L609.3 300.3 L610.3 303.4 L609.3 304.7 L607.5 301.8 L609.0 304.8 L607.5 305.6 L607.2 302.4 L607.1 305.8 L605.6 306.5 L605.4 304.2 L605.2 306.4 L602.6 305.9 L603.3 303.5 L602.2 306.0 L599.5 307.1"/>
<path d="M599.5 307.1 L598.0 309.5 L599.6 307.5 L600.7 309.6 L602.5 307.7 L601.1 309.8 L603.2 310.8 L601.2 309.5 L603.5 310.6 L606.3 309.0 L603.9 309.8 L606.6 309.2 L608.7 310.8 L606.1 311.0 L608.7 311.2 L608.4 313.3 L609.7 312.7 L608.4 313.7 L608.1 315.8 L607.2 314.5 L607.9 316.1 L605.6 318.9 L604.7 317.4 L605.3 319.0 L601.9 320.1"/>
<path d="M601.9 320.1 L601.6 320.5 L602.2 320.4 L604.4 323.8 L603.7 324.7 L604.6 324.1 L606.3 326.9 L606.1 326.1 L605.9 327.1 L603.2 329.3 L602.4 330.4 L603.3 329.7 L605.0 333.0 L604.5 332.3 L604.8 333.4 L603.8 335.5 L603.3 335.5 L603.6 335.9 L602.6 338.0 L602.0 338.1 L602.8 338.3 L604.4 340.4 L603.1 340.4 L604.6 340.8 L606.0 343.4"/>
<path d="M630.9 286.8 L631.8 286.4 L630.9 287.2 L630.3 290.5 L629.5 289.4 L630.7 290.4 L634.6 289.9 L635.8 290.1 L634.5 290.3 L634.0 293.0 L633.9 294.0 L633.6 293.0 L630.9 293.6 L631.2 293.9 L630.7 293.9 L629.1 297.3 L629.3 297.8 L628.8 297.5 L627.2 298.8 L628.6 299.3 L626.9 299.1 L625.4 300.4 L626.0 301.4 L625.1 300.6 L623.5 301.9 L623.9 302.5 L623.2 302.1 L621.7 303.4 L622.2 303.7 L621.5 303.8 L620.1 305.9 L621.2 307.1 L619.9 306.2 L618.6 308.4 L619.0 309.0 L618.4 308.7 L617.7 310.8 L619.1 311.1 L617.5 311.2 L616.7 313.3"/>
<path d="M616.7 313.3 L617.9 313.3 L616.9 313.7 L618.0 317.0 L617.9 316.3 L618.4 317.0 L620.4 316.7 L620.8 315.8 L620.8 316.6 L622.9 316.4 L623.6 314.9 L623.1 316.7 L624.1 318.2 L624.1 319.9 L623.8 318.5 L620.4 320.7 L621.4 320.4 L620.5 321.1 L621.1 323.2 L622.7 324.3 L620.7 323.4 L618.0 325.6 L617.8 323.3 L618.3 325.8 L620.4 327.2 L622.4 326.4 L620.8 327.4 L622.9 328.7 L624.7 328.3 L623.1 329.1 L624.1 330.6 L624.5 332.0 L623.8 330.8 L620.4 333.0 L621.6 332.6 L620.7 333.4 L622.9 336.7 L625.5 337.4 L622.8 337.1 L621.7 341.1 L622.5 338.8 L622.0 341.3 L624.1 342.9 L624.6 341.2 L624.4 343.2 L625.7 344.8 L626.8 344.1 L625.9 345.1 L627.2 346.6 L628.3 344.5 L627.6 346.7 L630.9 347.2 L628.5 347.7 L631.1 346.9 L631.8 345.1 L629.1 345.8 L632.0 344.7 L632.8 342.9 L634.0 341.7 L632.9 343.3 L633.4 345.4 L634.2 347.0 L633.2 345.7 L631.5 349.1 L631.0 351.1 L631.2 349.2 L627.8 350.3 L627.8 352.8 L627.5 350.1 L624.1 347.8 L625.5 349.7 L623.8 348.0 L620.4 349.1 L619.7 351.0 L620.1 348.9 L617.4 347.2 L619.4 347.7 L617.2 347.6 L615.5 350.9"/>
<path class="fill" d="M614.3 321.9 L616.7 323.2 L614.3 329.3 L611.8 333.0 L613.0 328.1 Z"/>
<path class="fill" d="M614.9 334.3 L619.2 331.8 L621.7 338.0 L619.2 341.7 L614.9 342.9 L613.7 338.0 Z"/>
<path class="fill" d="M614.9 323.7 L617.7 323.1 L616.9 329.3 L620.2 330.9 L622.7 330.1 L623.2 332.6 L619.4 335.4 L620.5 339.8 L617.7 343.1 L614.9 342.1 L613.9 336.8 L615.5 332.1 L612.7 333.1 L613.5 328.1 Z"/>
<path d="M577.3 326.9 L580.4 324.2 L587.4 330.3 L582.0 335.7 L579.7 331.8 Z"/>
<path d="M714.0 229.9 L713.8 230.4 L713.6 229.8 L711.2 228.7 L711.8 228.1 L710.9 228.5 L708.5 227.5 L708.2 227.4 L708.6 227.1 L709.1 225.6 L709.5 226.5 L709.5 225.7 L711.5 226.0 L711.6 226.6 L711.9 226.1 L714.0 226.4 L714.0 227.1 L714.4 226.5 L716.5 226.9 L716.1 226.2 L716.9 226.8 L719.3 226.6 L719.3 227.3 L719.7 226.6 L722.2 226.4 L722.1 225.6 L722.6 226.4 L725.1 226.2 L725.8 225.7 L725.1 226.6 L725.1 227.5 L725.3 227.1 L724.7 227.5 L722.0 227.8 L722.1 228.3 L721.6 227.8 L718.9 228.1 L719.0 227.8 L718.6 228.3 L715.2 229.9 L714.7 229.2 L715.6 229.9 L717.7 229.6 L717.8 229.8 L718.1 229.6 L720.2 229.3 L719.8 229.8 L720.5 229.5 L723.3 231.2 L722.7 231.2 L723.3 231.6 L723.6 234.3 L724.5 234.8 L723.6 234.6 L723.9 237.3 L724.7 236.9 L723.8 237.7 L723.5 239.8 L722.9 239.5 L723.4 240.2 L723.1 242.3 L722.3 242.1 L723.1 242.7 L722.8 244.7 L723.2 244.7 L722.7 245.1 L722.4 247.2 L723.2 247.0 L722.3 247.6 L722.0 249.7 L721.4 249.2 L722.0 250.1 L721.7 252.1 L721.1 252.5 L721.7 252.5 L721.4 254.6 L720.8 254.6 L721.4 255.0 L721.1 257.1 L720.7 256.8 L721.0 257.5 L720.8 259.5 L721.4 259.3 L720.7 259.9 L720.4 262.0 L719.8 261.6 L720.3 262.4 L720.0 264.5 L719.3 264.0 L719.9 264.9 L719.6 266.9 L719.2 266.9 L719.5 267.3 L719.2 269.7 L719.9 270.3 L719.2 270.1 L718.9 272.5 L719.2 273.3 L718.6 272.7 L715.9 274.3 L715.5 274.3 L715.8 274.7 L715.2 276.8 L715.4 277.6 L715.0 277.1 L713.4 279.0 L713.7 279.4 L713.1 279.3 L711.5 281.1 L712.5 281.4 L711.3 281.4 L709.4 283.3 L709.2 282.4 L709.1 283.6 L707.2 285.4"/>
<path d="M718.9 254.6 L716.2 255.7 L716.9 257.4 L717.3 259.1 L717.3 260.9 L714.5 262.1 L716.1 262.9 L717.4 263.2 L716.9 264.9 L717.1 266.7 L716.6 268.2 L717.2 269.8 L718.4 270.9 L718.9 272.5"/>
<path class="b" d="M268.7 335.8 L270.1 336.6 L271.4 337.2 L273.1 338.0 L275.1 338.9 L276.9 339.7 L277.8 341.1 L279.5 341.8 L281.3 342.2 L282.6 341.4 L284.7 341.2 L286.1 341.1 L287.5 339.9 L288.6 338.9 L290.3 337.8 L291.5 336.5 L293.0 336.3 L294.9 335.3 L297.1 335.0 L298.5 334.4 L299.5 336.2 L299.3 337.8 L299.8 339.2 L299.9 341.0 L300.3 342.8 L301.9 343.5 L303.1 345.0 L303.7 346.2 L305.2 347.3 L306.8 348.8 L308.4 350.0 L310.5 351.2 L310.9 352.5 L311.9 354.4 L312.6 355.6"/>
<path class="b" d="M312.6 355.6 L314.0 355.0 L315.7 355.3 L317.4 354.7 L319.0 354.4 L320.8 354.3 L322.1 354.6 L324.0 353.8 L325.0 352.4 L325.5 350.8 L326.0 349.4 L327.2 347.8 L327.8 346.7 L329.5 345.3 L331.6 344.6 L331.8 342.9 L332.0 341.1 L331.9 339.3 L332.4 337.4 L332.2 336.0 L331.6 334.4 L331.2 332.6 L331.9 330.7 L333.0 329.6 L333.9 328.3 L334.4 326.7 L335.3 325.2 L336.5 323.9 L338.0 323.1 L339.5 321.9 L340.4 320.4 L342.2 319.7 L343.8 321.0 L345.2 322.7 L346.1 324.7 L346.4 327.4 L347.7 326.4 L349.3 325.8 L351.0 325.8 L352.6 325.2 L352.5 323.3 L352.3 322.0 L352.1 320.0 L351.8 318.8 L351.7 317.1 L352.4 315.6 L353.7 313.8 L355.2 312.5"/>
<path class="b" d="M312.6 355.6 L312.4 357.4 L312.4 359.0 L313.1 361.0 L313.0 362.5 L312.3 364.1 L312.1 365.9 L311.3 367.6 L310.4 369.1 L309.4 370.6 L310.4 372.0 L311.1 374.0 L311.9 375.4 L313.2 377.1 L314.2 378.3 L315.3 379.9 L315.4 381.6 L316.1 383.4 L316.9 384.9 L317.6 386.5 L318.3 388.0 L318.9 389.5 L319.8 391.3 L320.5 392.7 L321.4 394.5 L322.3 395.7 L323.1 397.6 L323.9 398.5 L325.2 400.2 L326.1 401.6 L327.2 402.9 L328.6 404.0 L330.2 404.8 L331.8 405.8 L333.0 407.0 L334.4 408.2 L336.2 408.5 L337.7 410.0 L339.1 410.2 L340.6 411.5"/>
<path class="b" d="M338.9 411.5 L337.6 412.2 L336.1 413.1 L335.1 414.3 L333.7 415.2 L332.6 416.7 L331.5 417.8 L330.3 418.8 L328.8 419.6 L327.8 420.8 L326.3 421.7 L324.8 422.2 L324.1 423.6 L322.8 424.6 L321.6 425.6 L319.9 426.3 L318.5 427.4 L317.2 428.1 L315.6 428.9 L314.1 428.9 L312.5 429.8 L311.4 430.7 L309.6 431.4 L308.3 432.3 L306.8 432.5 L305.1 433.3 L304.0 434.3 L303.0 435.8 L301.9 437.1 L300.9 438.9 L300.3 440.0 L298.9 441.4 L297.7 442.5 L296.4 443.3 L295.4 444.0 L294.3 445.9 L293.6 448.5 L291.8 448.5 L290.4 448.6 L288.5 449.7 L286.9 449.7 L285.1 450.2 L283.9 451.8 L282.7 454.1 L281.3 455.3"/>
<path class="b" d="M340.6 411.5 L341.1 413.7 L341.5 415.6 L341.6 417.5 L342.6 419.2 L343.6 420.8 L344.1 422.3 L345.2 423.9 L346.1 425.3 L348.0 426.0 L348.8 427.4 L350.2 427.9 L351.4 428.9 L352.7 429.8 L354.8 430.6 L356.6 430.9 L359.1 431.6 L360.8 430.3 L363.0 429.0 L364.2 428.2 L365.1 427.0 L366.6 425.8 L367.6 424.9 L368.9 423.8 L369.7 425.2 L371.5 426.3 L372.9 427.0 L373.9 428.0 L375.2 428.9 L376.7 430.5 L378.3 429.7 L380.2 428.4 L382.1 428.1 L384.2 427.5 L385.9 427.0 L387.8 427.5 L389.6 426.6 L391.0 425.7 L392.9 425.3 L393.3 423.5 L393.6 421.5 L393.9 419.8 L395.5 420.5 L397.3 420.8 L398.9 421.5 L400.3 422.2 L401.9 421.5 L403.2 420.6 L405.2 420.4 L406.7 419.4 L408.3 419.0 L409.9 417.6 L411.6 417.2 L412.7 418.8 L414.0 420.1 L415.7 418.6 L417.2 418.1 L418.5 416.5 L420.0 415.5 L423.1 413.9 L422.5 412.3 L422.4 410.0 L423.9 409.1 L425.2 407.6 L424.6 406.4 L423.5 405.1 L422.2 404.1 L423.0 402.4 L423.8 401.1 L424.6 399.3 L425.3 397.9 L426.6 396.6 L427.4 395.2 L428.7 394.3 L429.9 392.6 L430.5 391.3 L432.0 390.3 L432.6 389.0 L433.8 387.7 L435.0 386.6 L435.9 385.1 L437.2 384.1 L438.0 382.6 L439.4 381.7 L440.1 379.6 L440.2 377.5 L440.7 375.9 L441.7 374.1 L442.8 372.5 L444.4 371.2 L445.0 369.3 L446.5 368.1 L447.4 366.4 L447.8 364.3 L448.3 362.6 L449.6 360.9 L450.8 359.5 L451.5 358.0 L453.0 356.4 L453.6 354.6 L453.5 352.9 L454.0 350.9 L454.8 348.9 L456.9 350.6 L459.5 351.2 L459.8 352.9 L461.2 354.1 L461.7 355.6 L463.2 356.7 L464.7 357.2 L466.7 357.5 L468.7 357.9 L469.9 358.7 L471.4 359.6 L472.9 358.4 L473.6 356.8 L474.3 355.2 L476.0 354.1 L476.9 352.8 L477.0 351.2 L478.1 349.8 L478.8 348.3 L479.5 347.0 L480.4 345.7 L481.3 344.2 L481.3 342.5 L482.4 341.2 L483.1 339.8 L483.7 338.0 L484.4 336.6 L485.5 335.4 L486.1 333.9 L487.5 334.8 L489.0 335.3 L490.0 336.6 L491.8 337.9 L492.7 336.3 L494.1 334.8 L495.0 333.3 L496.0 331.8 L496.7 330.3 L497.8 329.1 L499.8 328.8 L501.3 327.9 L503.3 327.1 L504.2 325.8 L505.4 324.6 L506.7 324.0 L507.5 322.2 L508.6 320.9 L509.7 320.0 L511.0 318.9 L512.0 317.7 L513.4 316.6 L514.5 315.2 L514.7 313.0 L514.5 311.5 L514.7 309.3 L514.8 307.3 L515.7 306.0 L517.1 305.2 L518.2 303.9 L518.0 302.0 L517.9 299.8 L518.1 298.0 L518.0 296.0"/>
<path d="M446.6 432.8 L446.0 432.8 L446.9 433.0 L448.5 434.6 L448.3 435.5 L448.7 434.9 L450.3 436.5 L450.9 436.4 L450.6 436.8 L452.0 438.2 L452.2 437.9 L452.3 438.5 L453.7 439.8 L453.9 439.3 L454.0 440.1 L455.4 441.5 L455.4 440.7 L455.7 441.6 L457.6 442.1 L457.4 441.5 L458.0 442.3 L459.9 442.8 L459.5 442.6 L459.7 443.2 L459.1 445.3 L459.3 444.6 L458.7 445.3 L456.6 445.7 L456.3 445.0 L456.2 445.7 L454.1 446.0 L454.1 445.8 L453.7 446.0 L449.8 445.3 L449.6 444.8 L450.2 445.1 L452.0 444.3 L451.9 444.1 L452.3 444.1 L454.1 443.3 L454.8 443.2 L453.9 443.0 L452.5 441.1 L452.6 440.9 L452.2 440.8 L450.8 439.0 L450.4 439.2 L450.6 438.7 L448.3 435.3 L447.9 435.3 L448.1 434.9 L446.6 432.8"/>
<path class="b" d="M518.0 296.3 L541.7 315.9 L545.9 305.0 L546.7 300.8"/>
<path d="M581.8 335.9 L581.0 335.4 L581.7 336.3 L581.0 340.1 L582.5 341.2 L580.6 340.2 L576.8 341.8 L576.0 341.4 L576.6 342.1 L575.5 344.3 L574.8 343.3 L575.4 344.6 L574.3 346.8 L574.2 347.9 L573.9 346.7 L570.9 345.9 L571.7 346.3 L570.8 346.3 L569.3 350.1 L570.5 351.4 L569.1 350.5 L567.6 353.4 L569.4 352.4 L567.6 353.8 L567.2 356.4 L568.2 357.0 L567.1 356.8 L566.8 359.3 L568.2 359.0 L566.7 359.7 L565.9 363.5 L565.9 362.8 L566.3 363.6 L569.3 364.3 L569.1 363.3 L569.7 364.2 L571.8 363.5 L572.0 362.5 L572.2 363.3 L574.3 362.6 L572.8 362.7 L574.4 362.3 L576.0 358.5 L575.8 357.1 L576.3 358.2 L578.0 357.2 L576.3 356.4 L578.4 357.0 L580.1 355.9 L578.0 355.4 L580.3 356.3 L581.8 360.1 L583.4 360.0 L581.7 360.5 L581.4 362.6 L580.3 361.8 L581.3 363.0 L581.0 365.1 L580.4 366.8 L581.4 365.2 L585.1 366.0 L585.0 366.5 L585.5 366.2 L588.5 368.5 L589.1 367.1 L588.9 368.5 L591.8 368.9 L592.7 367.5 L592.2 368.9 L595.2 369.3 L595.1 368.5 L595.5 369.4 L597.7 370.1 L596.3 371.2 L598.0 370.3 L600.2 371.0 L601.0 369.7 L600.5 371.2 L602.4 372.6 L601.4 373.4 L602.7 372.9 L604.6 374.3 L605.8 373.3 L604.9 374.6 L606.9 376.0 L606.0 374.2 L607.2 376.1 L609.4 376.4 L608.1 377.7 L609.7 376.5 L611.9 376.8 L611.2 378.0 L612.1 377.2 L613.5 379.3 L612.7 380.5 L613.8 379.7 L615.2 381.8"/>
<path d="M568.4 353.4 L569.4 353.5 L568.6 353.8 L569.3 356.4 L567.7 357.6 L569.4 356.8 L570.1 359.3 L571.2 358.5 L570.5 359.5 L573.5 361.0"/>
<path d="M579.3 366.0 L578.2 367.0 L579.5 366.3 L580.7 367.9 L581.3 367.8 L580.9 368.2 L582.1 369.9 L581.4 371.4 L582.3 370.2 L583.5 371.8 L583.7 371.1 L583.9 371.9 L586.0 372.6 L586.7 371.2 L586.4 372.8 L588.5 373.5 L589.3 372.8 L588.8 373.7 L590.7 374.6 L589.8 375.9 L591.1 374.8 L592.9 375.7 L593.5 375.1 L593.3 375.9 L595.2 376.8 L596.0 378.2 L595.6 376.8 L598.1 376.8 L596.9 378.3 L598.5 376.8 L601.0 376.8 L600.9 378.4 L601.3 377.1 L603.0 378.5 L602.4 379.4 L603.3 378.8 L604.9 380.2 L604.5 380.7 L605.2 380.4 L606.9 381.8 L607.8 381.4 L607.2 382.1 L609.1 383.5 L609.1 382.5 L609.4 383.7 L611.3 385.2 L611.2 386.0 L611.6 385.4 L613.5 386.8 L613.6 388.3 L613.9 387.0 L616.0 388.0 L616.5 387.3 L616.4 388.1 L618.5 389.1 L617.2 390.2 L618.9 389.2 L621.0 390.2 L620.0 390.1 L621.2 390.5 L621.9 391.9 L621.9 392.7 L621.5 392.1 L619.8 393.1 L619.6 392.2 L619.4 393.3 L617.7 394.4 L619.1 395.8 L617.6 394.8 L617.3 397.2 L616.3 396.1 L617.2 397.6 L616.9 400.0"/>
<path d="M606.0 343.4 L606.5 345.3 L606.4 346.9 L606.7 348.3 L607.0 350.1 L606.4 351.8 L607.1 353.6 L607.4 355.4 L608.9 356.6 L609.5 358.6 L610.3 360.1 L610.9 362.2 L611.8 364.3 L609.6 364.8 L608.0 365.9 L610.1 366.5 L611.7 367.7 L612.2 369.7 L612.0 371.7 L612.4 373.4 L613.6 374.6 L614.1 376.7 L615.6 377.7 L615.1 379.5 L615.2 381.8"/>
<path d="M616.9 350.1 L617.9 351.2 L616.7 350.5 L615.6 353.0 L617.6 353.2 L615.5 353.4 L614.4 355.9 L615.6 354.1 L614.6 356.3 L616.9 359.3 L618.1 358.0 L617.1 359.6 L618.5 361.4 L620.9 360.3 L618.8 361.7 L620.2 363.5 L621.8 361.8 L620.6 363.6 L622.7 364.7 L624.3 363.9 L623.1 364.9 L625.2 366.0 L626.8 364.5 L625.6 366.2 L627.3 367.2 L627.4 365.9 L627.6 367.4 L629.4 368.5 L627.8 367.3 L629.5 368.1 L629.8 366.0 L627.6 366.1 L629.9 365.6 L630.2 363.5 L630.6 362.6 L630.6 363.6 L634.4 365.1 L631.8 364.7 L634.7 364.8 L636.1 363.0 L633.8 362.6 L636.3 362.7 L637.7 361.0 L639.2 360.4 L637.7 361.3 L637.2 363.5 L638.4 363.5 L637.1 363.9 L636.6 366.0 L638.7 368.3 L636.5 366.4 L636.1 368.5 L636.6 367.5 L636.4 368.8 L637.7 370.1 L638.7 367.5 L638.0 370.4 L639.4 371.8 L640.7 372.0 L639.3 372.2 L638.6 375.2 L638.6 374.2 L638.9 375.3 L642.8 376.8 L644.1 377.2 L642.6 377.2 L641.5 379.3 L644.2 379.6 L641.3 379.7 L640.2 381.8 L640.8 383.0 L640.0 382.2 L639.0 383.9 L639.9 385.4 L638.8 384.3 L637.7 386.0 L638.9 384.3 L638.1 386.1 L641.9 386.8 L641.0 385.7 L642.3 386.8 L644.4 386.4 L644.0 384.3 L644.8 386.4 L646.9 386.0 L648.5 386.8 L646.8 386.4 L646.1 390.2 L647.6 388.6 L646.3 390.5 L647.8 393.5 L647.9 395.1 L647.4 393.8 L645.7 395.2 L647.2 396.1 L645.4 395.4 L643.6 396.9 L645.6 397.1 L643.4 397.2 L641.9 400.0"/>
<path class="fat2" d="M628.6 387.2 L633.6 387.7 L637.7 389.3 L646.9 386.0 L668.6 381.5"/>
<path d="M674.5 334.2 L675.0 334.4 L674.5 334.6 L674.9 337.0 L674.2 337.7 L675.0 337.3 L675.3 339.7 L673.9 340.9 L675.4 340.1 L675.7 342.4 L677.1 342.6 L675.8 342.8 L676.1 345.1 L674.8 345.6 L676.2 345.5 L676.3 347.6 L675.7 347.3 L676.3 348.0 L676.4 350.1 L677.7 349.8 L676.4 350.5 L676.5 352.6 L675.6 352.7 L676.5 353.0 L676.6 355.1 L676.0 354.5 L676.5 355.5 L675.9 357.9 L676.9 358.2 L675.8 358.3 L675.2 360.7 L674.7 360.4 L675.1 361.1 L674.5 363.5 L676.3 363.6 L674.2 363.8 L672.4 366.0 L673.2 367.2 L672.1 366.3 L670.3 368.5 L669.5 368.1 L670.1 368.8 L668.6 371.0 L667.3 370.6 L668.4 371.3 L667.0 373.5 L667.3 374.0 L666.7 373.8 L664.9 376.0 L665.2 377.1 L664.6 376.3 L662.8 378.5 L663.6 379.7 L662.6 378.8 L661.5 381.0 L660.6 379.6 L661.4 381.4 L660.3 383.5 L659.3 382.8 L660.2 383.9 L659.4 386.0 L660.6 386.6 L659.3 386.4 L658.6 388.5 L657.3 388.8 L658.5 388.9 L657.8 391.0 L657.2 391.0 L657.7 391.4 L656.9 393.5 L657.6 394.1 L656.8 393.9 L655.8 395.7 L656.1 396.3 L655.6 396.0 L654.7 397.9 L655.0 398.1 L654.5 398.2 L653.6 400.0"/>
<path d="M671.1 341.8 L672.3 343.1 L673.2 345.4 L671.0 346.8 L669.8 347.9 L671.1 348.2 L672.7 349.1 L674.5 349.3"/>
<path d="M670.3 358.5 L672.0 358.0 L673.8 357.5 L675.5 358.0 L674.1 358.8 L674.0 360.8 L672.8 361.8"/>
<path d="M586.8 386.7 L587.2 385.6 L587.1 386.9 L589.3 388.8 L589.1 389.1 L589.6 389.0 L591.8 390.8 L592.4 390.2 L592.1 391.1 L593.5 392.8 L593.3 393.3 L593.8 393.1 L595.2 394.7 L596.4 394.6 L595.4 395.0 L596.8 396.7 L596.1 397.3 L597.2 396.9 L599.8 398.4 L599.3 399.0 L600.1 398.6 L602.7 400.0 L602.3 400.3 L602.9 400.4 L604.3 403.0 L604.8 402.4 L604.5 403.3 L606.0 405.9 L606.4 405.7 L606.4 406.1 L608.9 407.5 L609.0 406.8 L609.3 407.7 L611.9 409.2 L611.7 408.1 L612.2 409.3 L614.8 410.0 L615.2 411.2 L615.2 410.2 L617.7 410.9"/>
<path class="thin" d="M587.6 388.0 L595.2 396.7 L601.0 401.7 L604.3 407.5 L610.2 410.4"/>
<path d="M607.7 386.3 L607.6 385.8 L608.1 386.5 L609.9 387.0 L610.7 385.6 L610.3 387.1 L612.1 387.7 L612.0 388.9 L612.5 387.8 L614.4 388.3 L613.3 389.8 L614.7 388.5 L616.8 389.2 L617.7 388.0 L617.1 389.3 L619.2 390.0 L619.4 391.8 L619.5 390.1 L621.5 390.8 L620.7 389.6 L621.3 391.1 L619.6 392.9 L619.9 394.0 L619.4 393.2 L617.7 395.0 L615.8 396.0 L617.7 395.4 L617.3 398.4 L616.1 398.8 L617.2 398.8 L616.9 401.7 L618.4 402.3 L616.7 402.1 L616.0 404.2 L615.1 403.3 L615.9 404.6 L615.2 406.7 L614.9 408.3 L615.5 407.0 L617.7 409.2"/>
<path d="M592.7 415.1 L594.0 415.1 L592.9 415.4 L594.0 417.3 L593.3 418.3 L594.3 417.6 L595.4 419.5 L596.8 419.4 L595.7 419.8 L596.8 421.7 L597.0 421.2 L597.1 422.0 L598.9 424.2 L598.7 424.6 L599.2 424.5 L601.0 426.7 L601.1 425.7 L601.3 427.0 L603.5 428.8 L604.1 427.7 L603.8 429.1 L606.0 430.9 L605.9 431.8 L606.4 431.1 L610.2 432.6 L609.8 432.4 L610.5 432.4 L613.5 430.1 L614.4 429.9 L613.2 429.8 L611.9 428.4 L611.0 429.5 L611.6 428.1 L610.2 426.7 L611.3 426.8 L610.3 426.4 L611.0 422.6 L611.0 421.2 L611.4 422.8 L614.4 424.2 L613.3 424.6 L614.3 423.9 L613.5 420.9 L613.9 419.8 L613.1 421.0 L610.2 421.7"/>
<path class="thin" d="M593.5 414.7 L594.5 416.1 L595.4 417.9 L596.0 419.1 L597.5 420.7 L598.8 422.0 L599.6 423.3 L600.6 424.8 L602.6 425.5 L603.7 427.1 L605.0 428.7 L607.1 428.9 L608.5 430.4"/>
<path d="M611.9 414.2 L611.4 414.9 L612.3 414.3 L614.4 414.6 L615.2 413.8 L614.8 414.7 L616.9 415.1 L617.6 415.0 L617.1 415.4 L618.1 417.1 L618.9 416.3 L618.3 417.5 L619.4 419.2 L617.9 418.0 L619.4 419.6 L619.4 422.2 L620.4 422.7 L619.4 422.6 L619.4 425.1 L619.5 426.4 L619.0 425.2 L615.2 426.7"/>
<path d="M583.5 430.9 L583.3 431.7 L583.8 431.1 L585.6 432.2 L585.9 432.0 L585.9 432.4 L587.6 433.4 L587.7 434.0 L588.0 433.5 L590.6 434.3 L591.6 433.5 L591.0 434.4 L593.5 435.1 L594.0 434.3 L593.8 435.4 L595.2 436.8 L595.3 436.4 L595.4 437.0 L596.8 438.4 L596.4 438.3 L597.1 438.1 L598.5 436.3 L599.0 437.5 L598.8 436.0 L600.2 434.3 L598.8 434.1 L600.4 434.6 L601.4 436.3 L601.8 436.3 L601.6 436.7 L602.7 438.4 L603.0 437.7 L603.0 438.6 L606.0 440.1 L606.9 441.0 L606.3 439.9 L608.1 438.4 L607.7 437.2 L608.4 438.2 L610.2 436.8 L611.3 436.0 L610.5 436.9 L613.5 438.4 L613.4 437.3 L613.9 438.6 L617.7 440.1 L616.3 440.1 L617.9 440.4 L619.4 442.6 L618.6 442.7 L619.3 443.0 L618.5 445.9 L617.3 445.6 L618.3 446.2 L616.0 448.5 L616.6 449.0 L615.6 448.5 L611.9 449.3 L611.9 448.7 L611.5 449.0 L608.5 446.8 L608.8 445.6 L608.2 446.5 L606.0 444.7 L606.6 444.4 L605.7 444.4 L603.5 442.6 L604.3 442.2 L603.2 442.3 L601.0 440.1 L599.9 439.5 L600.9 440.5 L600.2 444.3 L601.3 443.6 L600.5 444.5 L602.7 445.9 L603.1 445.7 L603.0 446.2 L605.2 447.6 L604.6 448.1 L605.5 447.8 L607.7 449.3 L608.7 448.9 L608.0 449.5 L610.2 451.0 L610.3 450.3 L610.5 451.2 L612.7 453.5 L612.6 454.7 L612.3 453.4 L608.5 452.6 L609.6 452.8 L608.3 453.0 L606.9 455.1 L606.7 454.1 L607.2 455.1 L611.0 454.8 L609.9 453.8 L611.4 454.7 L614.4 453.5 L613.4 453.8 L614.6 453.7 L616.9 456.0 L617.5 456.9 L617.1 455.6 L618.5 453.5 L620.0 453.4 L618.3 453.1 L616.9 451.0 L616.2 450.3 L617.1 450.6 L618.5 448.5"/>
<path class="thin" d="M584.3 432.6 L586.3 433.6 L588.1 433.8 L590.3 434.7 L592.1 435.6 L593.3 436.7 L595.0 437.2 L597.0 436.9 L598.5 435.9"/>
<path d="M618.5 448.5 L623.5 450.5 L628.6 453.5 L630.2 451.0 L633.2 451.8 L635.2 460.1 L638.6 468.5 L641.9 481.9 L643.6 490.0 L644.4 495.2"/>
<path d="M635.2 463.5 L633.6 468.5 L635.2 473.5 L631.1 475.2 L633.6 481.9 L637.7 486.9 L639.4 491.9"/>
<path d="M635.2 463.5 L637.7 470.2 L638.6 475.2 L636.9 478.5 L639.4 482.7"/>
<path class="b" d="M518.3 474.3 L641.1 474.3"/>
<path d="M509.2 470.2 L509.0 471.1 L509.6 470.2 L512.1 470.6 L512.1 470.1 L512.5 470.6 L515.0 471.0 L515.4 470.5 L515.4 471.1 L517.5 471.8 L517.7 471.0 L517.9 472.0 L520.0 472.7 L520.1 471.6 L519.7 472.9 L517.5 474.3 L517.8 474.5 L517.2 474.6 L515.0 476.0 L514.4 476.5 L515.3 476.2 L517.5 477.7 L518.5 477.2 L517.5 478.1 L517.1 480.6 L517.4 480.7 L517.0 481.0 L516.7 483.5"/>
<path d="M528.4 472.7 L527.7 473.2 L528.7 472.8 L530.9 473.9 L531.4 473.5 L531.2 474.1 L533.4 475.2 L533.6 474.7 L533.8 475.2 L535.9 475.4 L535.8 475.1 L536.3 475.5 L538.4 475.7 L537.8 476.6 L538.8 475.8 L540.9 476.0 L540.5 475.7 L540.5 476.2 L538.8 477.3 L538.9 477.8 L538.5 477.5 L536.7 478.5 L536.6 479.0 L537.1 478.6 L540.1 479.3 L540.9 478.6 L540.4 479.4 L543.4 480.2 L543.3 479.7 L543.8 480.2 L545.9 480.1 L545.7 479.7 L546.3 480.1 L548.4 480.0 L548.8 479.1 L548.8 479.9 L550.9 479.8"/>
<path d="M641.9 390.0 L642.8 390.9 L641.8 390.4 L641.1 393.3 L642.3 392.8 L641.0 393.7 L640.2 396.7 L641.0 396.9 L640.1 397.0 L639.1 398.9 L640.5 399.1 L639.0 399.3 L638.0 401.1 L639.3 401.8 L637.8 401.5 L636.9 403.4 L637.6 403.7 L636.8 403.7 L636.1 405.6 L637.5 405.9 L635.9 406.0 L635.2 407.8 L636.3 409.3 L635.1 408.2 L634.4 410.0 L636.6 410.2 L634.3 410.4 L633.8 412.8 L634.6 412.6 L633.8 413.2 L633.3 415.6 L634.4 415.7 L633.2 416.0 L632.7 418.4 L633.8 418.4 L632.6 418.8 L632.2 420.9 L632.9 421.1 L632.1 421.3 L631.6 423.4 L633.2 423.1 L631.6 423.8 L631.1 425.9 L632.5 427.6 L631.0 426.3 L630.6 428.4 L632.6 427.4 L630.7 428.8 L631.3 431.2 L632.0 430.9 L631.4 431.6 L632.0 434.0 L632.7 433.8 L632.1 434.4 L632.7 436.8 L633.7 435.6 L633.0 437.1 L634.4 439.3"/>
<path d="M634.4 439.3 L633.7 439.3 L634.5 438.9 L635.2 436.3 L636.7 437.9 L635.3 436.0 L636.1 433.4 L637.5 434.6 L636.1 433.0 L636.5 430.1 L638.1 430.7 L636.5 429.7 L636.9 426.7 L635.5 425.8 L637.1 426.4 L638.3 424.8 L638.6 425.8 L638.5 424.5 L639.7 422.8 L638.7 421.5 L639.9 422.5 L641.1 420.9 L639.5 420.8 L641.3 420.5 L642.3 418.4 L643.4 420.0 L642.5 418.0 L643.6 415.9 L644.5 416.0 L643.8 415.6 L645.0 413.9 L647.0 414.1 L645.2 413.6 L646.4 412.0 L647.9 412.6 L646.6 411.7 L647.8 410.0 L647.2 409.8 L647.9 409.7 L648.8 408.0 L648.0 406.7 L649.0 407.6 L649.8 405.9 L650.7 407.1 L650.0 405.5 L650.9 403.8 L649.8 403.6 L651.1 403.4 L651.9 401.7 L650.0 400.9 L652.1 401.4 L653.3 399.5 L653.1 398.8 L653.5 399.1 L654.7 397.2 L654.1 397.0 L654.9 396.9 L656.1 395.0 L657.1 396.6 L656.3 394.7 L657.8 392.5 L657.0 392.1 L658.0 392.2 L659.4 390.0 L661.6 389.8 L659.4 389.6 L659.0 387.5 L656.8 387.0 L659.0 387.1 L658.6 385.0 L658.0 386.1 L658.3 384.7 L656.9 383.3"/>
<path d="M648.6 385.8 L649.7 386.6 L648.5 386.2 L648.0 388.3 L649.8 387.5 L648.0 388.7 L647.5 390.8 L646.3 390.5 L647.4 391.2 L646.9 393.3 L646.6 392.8 L646.7 393.7 L645.3 395.6 L646.0 396.0 L645.0 395.9 L643.6 397.8 L645.7 398.0 L643.3 398.1 L641.9 400.0 L641.0 398.2 L641.7 400.4 L640.8 402.3 L642.0 402.1 L640.6 402.6 L639.7 404.5 L638.6 403.3 L639.5 404.8 L638.6 406.7 L639.6 408.4 L638.4 407.1 L637.5 409.5 L635.6 409.4 L637.3 409.9 L636.4 412.3 L636.7 412.8 L636.2 412.6 L635.2 415.1"/>
<path class="b" d="M45.0 445.0 L111.4 449.5 L172.8 456.3 L251.7 465.0"/>
<path d="M164.8 463.0 L164.6 462.0 L165.1 462.8 L166.9 460.9 L166.8 460.4 L167.2 460.6 L169.0 458.8 L168.7 458.4 L169.3 458.5 L170.9 456.6 L171.6 457.0 L171.2 456.3 L172.8 454.5 L173.3 454.3 L173.0 454.9 L173.8 456.6 L173.3 457.6 L174.0 457.0 L174.8 458.8 L174.8 458.3 L175.2 458.7 L177.5 458.4 L177.3 459.0 L177.9 458.3 L180.3 458.0 L179.9 457.5 L180.0 458.3 L178.4 460.0 L178.2 459.2 L178.2 460.3 L176.5 462.0 L177.1 461.7 L176.7 462.4 L178.3 465.0 L179.2 464.8 L178.0 464.8 L176.2 463.5 L176.3 463.1 L175.8 463.3 L174.0 462.0 L174.3 462.6 L173.6 462.1 L169.8 462.5 L170.5 463.4 L169.4 462.6 L167.3 462.8 L167.4 463.4 L166.9 462.8 L164.8 463.0"/>
<path class="b" d="M251.7 464.5 L260.5 460.5 L270.5 457.5 L281.2 455.5"/>
<path class="b" d="M27.5 543.2 L87.6 550.2 L149.0 556.0 L214.1 561.5 L276.7 564.2"/>
<path class="b" d="M149.0 556.0 L152.8 590.3"/>
<path class="b" d="M214.1 561.5 L214.0 559.6 L214.5 557.9 L214.7 556.3 L214.9 554.3 L215.4 552.7 L215.1 551.1 L216.0 549.4 L216.0 547.8 L217.4 546.2 L219.1 544.7 L220.8 545.0 L222.7 545.2 L224.5 545.2 L226.0 545.0 L228.0 545.3 L228.5 543.7 L228.9 541.7 L230.0 540.3 L230.7 538.6 L230.7 536.9 L231.7 535.1 L232.9 534.5 L234.4 533.4 L235.4 532.1 L236.5 530.7 L237.8 530.5 L239.5 529.5 L241.5 528.8 L243.1 528.9 L244.6 527.8 L246.6 527.3 L248.4 527.9 L250.4 528.1 L252.4 528.8 L254.3 528.7 L255.6 528.0 L257.0 527.0 L258.9 526.9 L260.5 526.0 L262.0 525.0 L264.0 524.2 L265.7 523.7 L267.2 523.1 L268.5 522.0 L270.5 521.4"/>
<path class="b" d="M276.7 564.2 L270.5 570.2 L263.0 581.5 L268.0 586.5 L273.0 588.3 L278.0 591.5"/>
<path class="thin" d="M42.5 560.2 L51.3 556.5 L60.1 560.2 L65.1 564.7 L72.6 567.7 L78.9 570.2 L82.6 576.5 L70.1 566.5 L63.8 562.7 L57.6 560.2 L51.3 558.2 L45.0 560.7 Z"/>
<path class="thin" d="M37.5 445.0 L38.8 452.5 L35.0 457.5 L31.3 462.5 L33.8 466.3 L37.5 460.0 L40.0 466.3 L42.5 473.8 L37.5 478.8 L33.8 483.8 L36.3 487.6 L37.5 481.3 L41.3 476.3 L40.0 470.0 L37.0 463.8"/>
<path class="b" d="M251.7 465.2 L338.9 468.8 L340.1 467.0 L352.7 468.0 L353.9 469.5 L420.3 474.6 L470.4 474.6 L535.5 474.6"/>
<path class="b" d="M352.7 468.8 L351.9 470.0 L350.8 471.2 L350.0 472.6 L350.0 474.2 L350.1 476.0 L350.4 477.5 L350.2 479.0 L349.2 480.7 L348.6 482.7 L350.2 484.4 L348.1 484.3 L346.1 484.5 L344.1 484.2 L342.3 485.3 L340.7 486.3 L339.0 487.9 L337.4 489.0 L337.3 490.6 L335.9 492.0 L334.7 493.6 L333.6 495.1 L332.7 496.4 L331.4 497.8 L330.1 499.0 L328.2 497.8 L326.3 496.6 L324.9 496.6 L322.9 496.5 L321.1 496.2 L319.7 496.8 L318.5 497.7 L316.5 498.1 L315.3 498.8 L313.6 499.9 L312.5 501.5 L311.1 502.3 L309.9 503.7 L308.6 505.0 L307.6 506.6 L306.6 504.7 L305.5 502.9 L303.5 501.1 L302.1 501.9 L300.1 502.4 L298.2 503.8 L296.7 505.0 L295.2 506.3 L293.3 506.2 L291.9 506.2 L289.7 506.3 L289.4 508.0 L288.9 509.7 L288.1 511.0 L287.7 512.8 L286.0 513.8 L285.0 515.3 L283.8 516.4 L281.7 516.8 L279.9 516.0 L278.3 516.5 L276.3 516.7 L274.9 517.2 L273.8 518.7 L272.2 519.3 L271.1 520.5 L270.0 521.4"/>
<path class="b" d="M276.3 565.2 L293.8 560.7 L297.6 557.7 L311.3 554.5 L313.8 552.7 L316.3 554.5 L380.2 559.7 L381.5 564.7 L386.5 561.5 L392.7 571.5 L392.7 580.3 L449.1 582.3 L455.4 588.3 L457.9 591.5"/>
<path d="M500.4 461.3 L499.5 460.9 L500.5 461.7 L501.1 463.8 L500.3 464.3 L501.2 464.2 L501.7 466.3 L501.5 465.8 L501.3 466.3 L497.9 466.3 L497.8 467.1 L498.3 466.5 L500.4 467.5 L501.3 467.0 L500.8 467.7 L502.9 468.8 L502.9 469.1 L503.3 469.0 L505.4 470.0 L506.3 469.3 L505.8 470.1 L508.6 470.7 L508.4 471.1 L509.0 470.8 L511.7 471.3 L511.3 472.2 L512.1 471.4 L514.6 471.7 L514.4 472.2 L515.0 471.8 L517.6 472.1 L517.7 471.9 L517.9 472.2 L520.5 472.6 L521.2 473.1 L520.3 472.9 L519.2 475.1 L520.0 475.7 L519.1 475.4 L518.4 477.6 L519.3 477.5 L518.3 477.9 L517.6 480.1 L517.0 480.2 L517.4 480.4 L516.7 482.6 L516.3 482.5 L516.6 482.2 L516.1 479.4 L515.5 479.3 L516.0 479.0 L515.5 476.3 L516.0 475.4 L515.1 476.3 L513.0 476.3 L512.5 477.2 L512.6 476.3 L510.5 476.3 L511.2 475.7 L510.2 476.0 L508.6 474.4 L508.8 473.5 L508.3 474.1 L506.7 472.6"/>
<path d="M640.9 480.1 L642.8 485.0 L646.5 494.9 L651.4 506.0 L656.3 515.8 L660.0 524.5 L661.9 531.9 L661.3 541.7 L660.0 550.4 L658.8 555.3 L655.1 552.6 L651.4 555.3 L648.3 558.0"/>
<path class="thin" d="M638.5 480.7 L640.3 485.0 L644.0 494.9 L648.9 504.7 L652.6 513.4"/>
<path d="M634.1 481.3 L636.0 485.0 L639.1 491.2 L642.2 498.6 L644.0 503.5 L641.5 501.0 L639.1 494.9 L636.6 489.9 L634.8 485.0"/>
<path d="M646.5 501.0 L647.7 505.4 L648.9 503.5 L647.1 499.8 Z"/>
<path d="M644.0 503.5 L643.2 504.2 L643.8 503.2 L642.8 501.4 L642.5 501.8 L642.6 501.1 L641.5 499.4 L641.0 500.8 L641.3 499.0 L640.3 497.3 L640.8 497.4 L640.1 497.0 L638.8 494.9 L638.3 495.2 L638.5 494.5 L637.2 492.4 L636.6 492.2 L637.1 492.8 L636.0 496.1 L635.7 496.7 L636.3 496.3 L638.5 498.0 L638.8 497.4 L638.1 497.8 L634.1 496.7 L635.1 496.2 L633.9 496.4 L632.0 494.6 L630.8 494.7 L631.7 494.3 L629.8 492.4 L629.6 493.2 L629.5 492.2 L627.0 491.2 L626.9 491.7 L626.7 491.0 L624.3 489.9 L623.4 490.9 L624.5 490.3 L626.7 493.6 L627.6 493.2 L627.0 494.0 L629.2 497.3 L628.4 496.8 L629.0 497.7 L628.0 499.8 L628.3 500.6 L627.6 499.7 L624.3 499.2 L624.6 498.0 L624.0 498.9 L622.4 497.6 L622.5 497.2 L622.1 497.4 L620.6 496.1 L620.9 496.6 L620.4 496.5 L619.3 498.6 L619.1 499.0 L619.6 498.9 L622.4 501.7 L622.8 503.0 L622.0 501.6 L618.7 501.0 L619.4 500.0 L618.4 500.8 L616.6 499.5 L615.8 500.0 L616.2 499.3 L614.4 498.0 L614.6 499.1 L614.0 497.8 L610.7 496.7 L609.7 497.5 L610.9 497.1 L612.6 499.8 L613.1 499.5 L612.9 500.0 L614.7 501.0 L615.1 499.9 L615.1 501.2 L616.9 502.3 L617.4 502.6 L616.5 502.4 L613.2 503.5 L613.5 504.4 L612.9 503.8 L610.7 507.2 L610.7 507.7 L610.3 507.3 L608.2 507.8 L608.3 508.6 L607.8 507.9 L605.8 508.4 L606.7 508.2 L605.5 508.1 L603.3 505.4 L603.5 506.2 L602.9 505.4 L600.2 506.0 L599.1 505.6 L600.2 505.6 L599.6 502.3 L599.7 503.4 L599.2 502.1 L597.8 501.7 L597.2 501.9 L597.8 502.1 L597.8 506.0 L598.8 506.2 L597.9 506.3 L599.0 509.7 L600.0 510.6 L598.8 510.0 L597.4 513.4"/>
<path d="M597.4 513.4 L597.6 512.2 L597.8 513.3 L599.7 513.1 L600.0 512.4 L600.1 513.0 L602.1 512.8 L601.2 512.1 L602.5 512.7 L604.5 512.1 L605.0 510.7 L604.9 512.0 L607.0 511.5 L607.1 512.0 L607.4 511.4 L610.1 510.9 L609.5 509.6 L610.5 510.8 L613.2 510.3 L613.6 508.8 L613.5 510.5 L616.3 512.8 L616.1 513.5 L616.6 512.8 L620.6 513.4 L621.1 513.2 L620.3 513.0 L618.7 510.9 L618.6 510.4 L619.1 510.7 L620.9 510.0 L620.1 509.3 L621.2 509.8 L623.0 509.1 L623.8 510.2 L623.4 509.0 L625.5 508.6 L625.4 509.5 L625.9 508.6 L628.0 508.2 L628.1 507.4 L628.4 508.2 L631.7 508.7 L632.1 508.2 L631.9 509.0 L633.5 511.5 L632.3 510.8 L633.4 511.9 L632.6 513.7 L631.7 513.0 L632.4 514.0 L631.7 515.8 L631.4 514.8 L631.3 516.0 L629.8 516.5 L630.2 516.4 L630.0 516.8 L631.7 519.5 L630.9 519.7 L631.7 519.9 L631.7 522.0 L630.3 522.3 L631.7 522.4 L631.7 524.5 L632.5 525.0 L631.6 524.9 L630.4 528.8 L630.0 527.3 L630.8 528.9 L633.5 529.4 L634.5 529.8 L633.6 529.0 L634.1 526.9 L635.1 526.9 L634.2 526.5 L634.8 524.5 L635.9 525.1 L634.8 524.1 L634.8 521.4 L635.8 521.7 L634.8 521.0 L634.8 518.3 L633.7 517.3 L634.9 517.9 L636.0 514.0 L635.9 512.9 L636.3 513.8 L639.1 512.1 L639.6 512.9 L639.4 511.9 L641.5 509.7 L641.9 509.1 L641.9 509.9 L644.6 511.5 L643.7 512.0 L644.8 511.9 L645.9 513.7 L645.4 514.1 L646.1 514.0 L647.1 515.8 L646.7 516.0 L647.1 516.2 L647.4 518.9 L648.2 519.3 L647.4 519.3 L647.7 522.0 L648.4 521.9 L647.6 522.4 L647.1 526.3 L647.1 526.9 L647.5 526.4 L648.9 526.9 L649.3 527.2 L648.6 527.1 L645.9 528.8 L646.1 528.3 L646.1 529.1 L648.3 531.9 L649.2 532.2 L648.0 532.1 L646.2 533.4 L646.9 534.6 L645.8 533.6 L644.0 535.0 L643.6 536.2 L643.7 534.7 L640.9 531.9 L641.3 532.0 L640.7 532.2 L639.7 534.3 L639.0 534.0 L639.4 534.6 L638.1 536.2 L638.4 537.4 L637.9 536.5 L636.6 538.0 L637.1 538.0 L636.4 538.4 L635.4 540.2 L635.6 540.5 L635.2 540.5 L634.1 542.4 L634.6 542.5 L633.9 542.6 L631.1 545.4 L631.6 545.7 L630.8 545.7 L629.2 547.6 L629.4 548.5 L628.9 547.9 L627.4 549.8 L627.7 549.2 L627.0 549.6 L625.2 548.8 L625.0 548.1 L624.8 548.7 L623.0 547.9 L622.6 548.3 L622.7 547.8 L619.3 546.7 L619.3 545.6 L618.9 546.6 L616.9 546.1 L617.2 545.2 L616.5 545.8 L613.2 543.6 L612.6 544.6 L612.8 543.4 L609.5 541.7 L609.1 540.9 L609.7 541.4 L611.9 538.0 L611.9 537.0 L611.5 538.0 L609.5 538.0 L608.6 539.3 L609.1 538.0 L607.0 538.0 L606.5 538.8 L606.6 537.9 L602.7 536.8 L603.3 535.6 L602.9 537.2 L604.5 540.5 L605.8 540.6 L604.4 540.9 L603.3 544.2 L603.3 545.2 L602.9 544.3 L599.6 545.4 L599.9 544.8 L599.2 545.3 L596.5 544.2 L596.4 544.9 L596.1 544.1 L593.4 543.0 L594.5 541.9 L593.1 542.8 L589.7 541.7 L588.7 542.8 L589.4 541.6 L586.0 539.9 L585.1 539.4 L585.8 540.2 L584.8 541.7 L584.7 542.3 L585.1 542.0 L586.7 543.3 L586.4 544.8 L587.0 543.5 L588.5 544.8 L589.2 544.1 L588.9 544.9 L592.8 546.1 L593.2 545.7 L593.2 546.2 L595.6 547.3 L595.2 548.6 L596.0 547.4 L598.4 548.5 L597.2 549.2 L598.7 548.7 L600.8 549.4 L600.8 549.0 L601.2 549.6 L603.3 550.4 L603.3 549.4 L603.7 550.4 L605.8 550.7 L605.7 551.1 L606.2 550.7 L608.2 551.0 L607.9 551.3 L608.5 551.2 L611.3 553.5 L610.8 553.3 L611.1 553.8 L609.5 556.5 L610.2 555.5 L609.1 556.5 L605.8 555.9 L604.6 555.6 L605.6 556.3 L603.9 559.0 L603.8 560.0 L604.2 559.3 L607.0 561.5 L606.4 562.4 L607.3 561.8 L608.2 563.0"/>
<path d="M608.1 562.7 L608.2 563.1 L607.8 563.0 L606.3 564.5 L605.7 564.5 L606.0 564.8 L604.4 566.4 L604.6 567.2 L604.1 566.6 L602.6 567.9 L602.9 568.4 L602.2 568.2 L600.7 569.5 L600.8 568.4 L600.4 569.7 L598.5 570.7 L598.7 571.2 L598.2 570.9 L596.4 571.9 L596.5 573.1 L596.0 571.9 L592.7 571.3 L591.5 572.1 L592.4 571.0 L590.8 569.5 L589.7 569.8 L590.6 569.2 L589.0 567.6 L589.6 567.2 L588.6 567.4 L586.5 566.4 L587.1 567.1 L586.3 566.7 L585.3 568.9 L584.5 568.8 L585.5 569.2 L587.8 572.6 L588.6 571.5 L588.1 572.8 L589.9 573.8 L590.5 572.9 L590.3 574.0 L592.1 575.0 L591.8 575.5 L592.4 575.2 L594.5 575.9 L594.4 577.2 L594.9 576.1 L597.0 576.9 L597.4 577.3 L597.3 576.6 L598.9 575.3 L597.5 574.8 L599.2 575.1 L600.7 573.8 L600.2 573.0 L601.1 573.6 L603.2 572.6 L603.3 571.0 L603.5 572.4 L605.6 571.3 L605.6 572.2 L606.0 571.2 L610.0 570.1 L610.4 570.3 L610.1 569.7 L611.8 566.4 L611.9 567.0 L612.2 566.6 L614.3 567.6 L613.6 568.2 L614.6 567.7 L618.0 568.9 L617.8 567.9 L618.4 568.9 L622.3 569.5 L621.6 569.2 L622.1 569.8 L621.1 572.6 L620.7 571.4 L620.7 572.8 L618.0 574.4 L617.5 574.4 L618.1 574.8 L619.2 577.5 L618.2 577.0 L618.9 577.7 L617.0 578.7 L616.1 578.3 L616.7 578.9 L614.9 580.0 L615.2 581.0 L614.6 580.2 L611.8 583.0 L612.4 583.4 L611.6 583.4 L610.6 585.8 L609.9 585.7 L610.4 586.2 L609.3 588.6"/>
<path d="M578.5 585.5 L579.1 588.6"/>
<path d="M589.0 587.7 L588.5 587.0 L589.4 587.7 L592.4 587.2 L592.3 586.7 L592.8 587.2 L595.8 586.7 L594.7 586.1 L596.1 586.5 L599.5 584.3 L600.7 583.8 L599.8 584.5 L603.2 586.7 L602.4 585.9 L603.3 586.4 L605.0 583.0 L605.7 583.4 L605.1 583.4 L605.6 585.8 L606.9 585.1 L605.7 586.2 L606.3 588.6"/>
<path d="M601.4 445.0 L607.6 450.0 L606.4 455.0 L615.2 453.8 L617.7 456.3 L618.9 450.0 L628.9 451.3 L632.7 450.0"/>
<path d="M670.4 311.3 L671.6 308.9 L673.8 309.1 L675.7 309.5 L677.2 309.4 L679.1 310.0 L680.8 310.3 L682.4 311.1 L682.7 313.1 L681.6 315.1 L681.2 317.2 L680.2 319.7 L680.1 321.8 L679.8 323.6 L679.4 325.7 L681.3 326.0 L683.0 325.7 L684.1 324.3 L685.7 322.7 L686.7 320.8 L687.7 319.4 L688.1 317.5 L689.0 315.5 L689.8 313.9 L691.3 312.7 L692.4 311.2 L693.2 309.9 L694.5 307.8 L695.7 305.6 L694.5 303.0 L696.7 302.4 L698.7 302.7 L700.7 301.8 L702.8 300.4 L704.0 298.9 L705.7 297.3 L704.4 295.9 L703.3 293.6 L704.5 291.8 L705.9 290.5 L704.7 288.6 L703.5 286.8 L706.4 288.3 L708.1 289.3 L709.6 289.6 L710.1 287.9 L708.9 286.3 L707.4 285.7"/>
<path class="fat" d="M682.7 325.0 L685.5 322.2 L687.4 318.9 L688.6 315.4"/>
<path class="fat" d="M696.9 302.3 L700.7 300.4 L704.5 297.7"/>
<path class="fat" d="M691.2 311.7 L693.3 309.1"/>
<path class="fat2" d="M653.7 272.5 L653.4 274.2 L652.8 275.7 L652.0 276.9 L650.8 278.5 L650.5 279.9 L649.6 281.9 L649.0 283.7 L647.9 285.8 L649.2 287.4 L649.7 288.9 L650.0 291.2 L651.0 292.8 L651.7 295.1"/>
</g>
<rect x="321.3" y="14.4" width="412.9" height="26.0" fill="#fff" fill-opacity="0.75" stroke="#000" stroke-opacity="0.75" stroke-width="1.3"/>
<g filter="url(#gs)"><text x="327.3" y="31.6" class="ttl" textLength="401.5" lengthAdjust="spacingAndGlyphs">Hourly Precipitation (in.) Valid: 201805150000</text></g>
<rect x="28.50" y="588.5" width="62.67" height="10.5" fill="#dda6ec"/><rect x="90.88" y="588.5" width="62.67" height="10.5" fill="#722a93"/><rect x="153.25" y="588.5" width="62.67" height="10.5" fill="#3200b4"/><rect x="215.62" y="588.5" width="62.67" height="10.5" fill="#1400dc"/><rect x="278.00" y="588.5" width="62.67" height="10.5" fill="#0014f0"/><rect x="340.38" y="588.5" width="62.67" height="10.5" fill="#004b96"/><rect x="402.75" y="588.5" width="62.67" height="10.5" fill="#0b8240"/><rect x="465.12" y="588.5" width="62.67" height="10.5" fill="#33be14"/><rect x="527.50" y="588.5" width="62.67" height="10.5" fill="#b0e614"/><rect x="589.88" y="588.5" width="62.67" height="10.5" fill="#ffdc00"/><rect x="652.25" y="588.5" width="62.67" height="10.5" fill="#ff7d00"/><rect x="714.62" y="588.5" width="62.67" height="10.5" fill="#ff1e00"/><rect x="777.00" y="588.5" width="62.67" height="10.5" fill="#dc0000"/><rect x="839.38" y="588.5" width="62.67" height="10.5" fill="#780000"/><rect x="901.75" y="588.5" width="62.67" height="10.5" fill="#320000"/><rect x="964.12" y="588.5" width="62.67" height="10.5" fill="#fce0ff"/>
<line x1="153.25" y1="588.5" x2="153.25" y2="599.0" stroke="#000" stroke-width="1"/><line x1="278.00" y1="588.5" x2="278.00" y2="599.0" stroke="#000" stroke-width="1"/><line x1="402.75" y1="588.5" x2="402.75" y2="599.0" stroke="#000" stroke-width="1"/><line x1="527.50" y1="588.5" x2="527.50" y2="599.0" stroke="#000" stroke-width="1"/><line x1="652.25" y1="588.5" x2="652.25" y2="599.0" stroke="#000" stroke-width="1"/><line x1="777.00" y1="588.5" x2="777.00" y2="599.0" stroke="#000" stroke-width="1"/><line x1="901.75" y1="588.5" x2="901.75" y2="599.0" stroke="#000" stroke-width="1"/>
<rect x="28.5" y="588.5" width="998.0" height="10.5" fill="none" stroke="#000" stroke-width="1.3"/>
<rect x="28.5" y="10.5" width="998.0" height="578.0" fill="none" stroke="#000" stroke-width="1.3"/>
<g filter="url(#gs)"><text transform="translate(28.50,618.9) scale(1,1.075)" text-anchor="middle" class="tl">0.01</text><text transform="translate(153.25,618.9) scale(1,1.075)" text-anchor="middle" class="tl">0.10</text><text transform="translate(278.00,618.9) scale(1,1.075)" text-anchor="middle" class="tl">0.20</text><text transform="translate(402.75,618.9) scale(1,1.075)" text-anchor="middle" class="tl">0.30</text><text transform="translate(527.50,618.9) scale(1,1.075)" text-anchor="middle" class="tl">0.50</text><text transform="translate(652.25,618.9) scale(1,1.075)" text-anchor="middle" class="tl">0.70</text><text transform="translate(777.00,618.9) scale(1,1.075)" text-anchor="middle" class="tl">0.90</text><text transform="translate(901.75,618.9) scale(1,1.075)" text-anchor="middle" class="tl">1.50</text><text transform="translate(1026.50,618.9) scale(1,1.075)" text-anchor="middle" class="tl">2.50</text></g>
</svg>
</body></html>
